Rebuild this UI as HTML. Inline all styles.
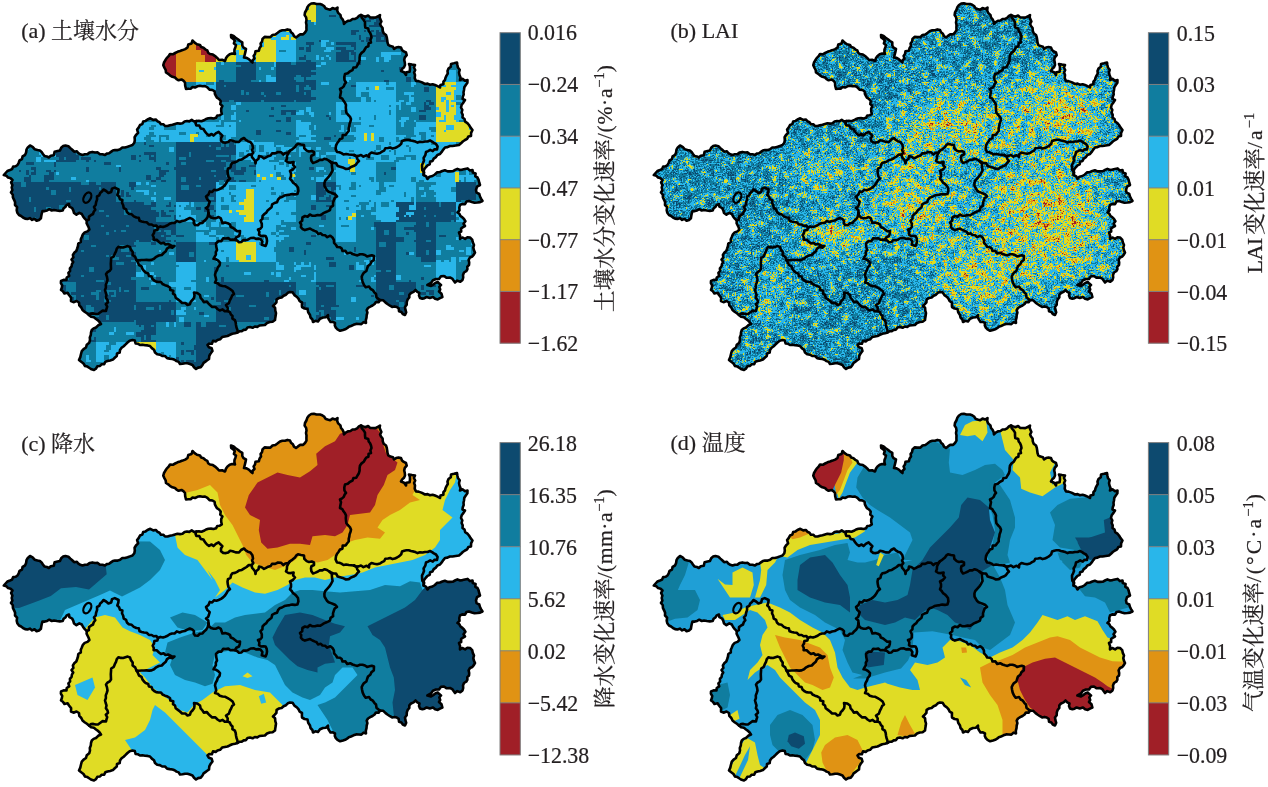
<!DOCTYPE html>
<html lang="zh"><head><meta charset="utf-8"><title>fig</title>
<style>
html,body{margin:0;padding:0;background:#fff}
body{width:1268px;height:787px;overflow:hidden;position:relative}
svg{position:absolute;left:0;top:0;display:block}
text{font-family:"Liberation Serif","Noto Serif CJK SC",serif;fill:#231f20;stroke:#231f20;stroke-width:0.22px}
.t{font-size:22px}
.l{font-size:22.8px}
.ax{font-size:21.6px}
</style></head><body>
<svg width="1268" height="787" viewBox="0 0 1268 787">
<defs>

<clipPath id="cp"><polygon points="3.8,175.0 5.6,173.0 7.4,171.0 10.0,170.0 12.1,169.1 13.2,166.6 15.7,166.3 17.5,165.0 18.7,162.8 19.6,160.3 22.0,159.0 22.6,156.3 25.0,155.0 26.1,152.5 26.5,149.7 27.8,147.4 30.0,145.5 32.6,146.8 34.6,149.2 37.5,150.0 39.9,150.5 41.6,151.9 42.9,154.0 44.4,155.9 46.8,156.4 48.8,157.5 50.8,155.7 53.8,155.2 54.6,151.7 57.5,151.0 60.0,150.4 61.2,147.8 63.0,146.1 65.5,145.5 68.4,146.2 70.4,148.1 72.5,150.0 74.1,151.7 76.9,151.3 78.4,153.2 80.3,154.3 82.5,155.0 84.9,154.2 87.5,154.1 89.8,152.4 92.3,151.9 95.0,152.5 97.7,152.4 99.9,154.2 102.5,154.2 105.0,155.0 106.8,153.6 109.1,153.2 110.9,151.9 112.8,150.6 115.0,150.0 117.7,150.1 120.1,149.2 122.3,147.5 125.0,147.5 127.6,146.8 130.0,145.9 132.5,145.0 134.3,142.8 134.8,140.2 134.6,137.3 136.0,135.0 138.1,132.9 137.1,129.6 138.8,127.4 140.0,125.0 142.3,124.1 143.2,121.5 145.6,120.9 147.5,119.5 150.3,118.3 153.2,119.9 156.0,119.5 157.4,121.3 159.5,122.2 160.9,124.2 163.5,124.3 165.0,126.0 167.6,126.0 170.0,125.2 172.5,124.7 175.0,124.0 177.4,123.3 180.0,123.6 182.5,123.3 184.6,121.5 187.0,121.0 189.3,121.4 191.7,119.9 194.1,121.5 196.4,121.0 198.9,120.9 201.5,121.2 203.8,120.3 206.0,119.0 208.4,118.2 211.0,118.1 213.6,118.5 216.0,117.8 217.3,115.5 219.8,115.2 221.8,114.0 221.2,111.3 221.2,108.6 222.4,106.0 220.3,104.1 220.7,101.0 219.0,99.0 216.9,97.7 215.9,95.8 214.9,93.8 214.6,91.3 212.5,90.0 209.5,89.6 207.4,87.4 205.0,86.0 202.5,86.3 199.9,85.8 197.4,86.3 195.0,87.5 192.6,87.0 190.6,88.8 188.3,88.8 186.0,89.0 185.2,85.8 185.0,82.5 183.4,80.6 181.5,79.5 178.6,80.3 176.6,79.2 175.0,77.5 172.4,76.8 170.2,75.6 168.2,73.8 166.0,72.5 165.7,70.0 164.4,67.6 163.3,65.2 164.0,62.5 165.3,60.3 166.7,58.1 168.6,56.2 170.0,54.0 172.8,54.3 175.1,53.0 177.5,51.8 180.0,51.0 182.6,50.1 185.2,49.1 187.5,47.5 188.3,44.5 191.6,43.4 192.5,40.5 194.6,42.6 197.0,44.3 200.0,45.0 201.2,47.1 203.5,47.8 205.2,49.3 207.3,50.3 208.1,52.7 210.0,54.0 212.9,54.6 215.1,56.1 217.2,57.9 219.0,60.0 222.1,59.7 225.0,61.0 225.9,58.3 227.5,56.0 229.7,54.3 232.2,53.5 235.0,54.0 234.4,51.7 234.5,49.4 235.4,47.2 236.0,45.0 233.9,43.5 234.8,40.6 233.3,38.9 231.2,37.4 231.0,35.0 233.6,36.0 235.7,37.7 237.9,39.2 240.0,41.0 242.3,42.4 242.3,45.5 243.5,47.7 246.0,49.0 245.4,51.9 244.7,54.7 244.0,57.5 246.6,57.9 248.8,59.1 250.6,60.9 252.5,62.5 252.6,60.2 254.5,58.5 253.6,55.9 255.0,54.0 255.5,51.3 258.9,50.7 259.6,48.0 261.0,46.0 260.6,43.5 262.1,41.4 262.5,39.0 264.6,36.9 267.5,37.1 270.4,37.1 272.5,35.0 275.4,34.5 277.7,32.8 280.0,31.0 282.4,30.2 285.0,30.2 287.4,29.4 290.0,30.0 291.0,32.3 292.9,33.8 294.0,36.1 296.0,37.5 298.0,35.9 300.2,34.4 303.1,34.4 305.0,32.5 306.5,30.1 306.4,27.6 306.5,25.1 306.0,22.5 306.5,19.9 306.1,17.4 304.6,15.1 305.0,12.5 306.4,10.0 307.3,7.3 309.0,5.0 311.3,3.5 313.8,3.2 316.5,4.0 320.0,4.0 322.2,4.8 324.1,6.0 325.4,8.2 327.5,9.0 330.2,9.8 332.5,8.1 335.2,9.0 337.5,7.5 337.2,10.4 338.2,12.9 340.4,14.9 341.0,17.5 342.6,19.4 343.6,21.5 344.0,24.0 345.7,22.1 347.9,20.9 350.5,20.5 352.5,19.0 355.1,18.9 357.1,17.8 358.9,16.0 361.0,15.0 363.2,15.9 365.4,16.7 368.1,15.5 370.1,17.4 372.5,17.5 375.3,17.6 377.7,16.5 380.0,15.0 379.6,17.3 380.5,19.4 381.4,21.5 380.1,23.9 381.0,26.0 382.6,28.0 382.8,30.9 383.7,33.3 386.0,35.0 386.8,37.4 387.2,40.0 387.5,42.5 388.3,44.9 390.4,46.1 393.0,46.8 394.0,49.0 396.1,47.6 398.5,47.1 401.0,47.5 402.0,49.9 403.8,51.4 406.0,52.5 406.7,55.1 404.8,57.4 404.2,59.9 404.8,62.5 405.0,65.0 404.0,67.2 402.2,68.9 401.0,71.0 404.1,72.3 406.0,75.0 406.3,72.3 409.6,71.7 410.0,69.0 409.9,66.4 409.0,64.0 412.0,64.6 415.0,65.0 413.9,67.5 415.2,70.0 414.1,72.5 415.0,75.0 414.7,78.1 416.0,81.0 418.5,81.1 420.7,81.9 422.9,82.8 425.0,84.0 427.6,83.6 430.0,84.7 432.6,84.2 435.0,85.0 437.6,86.1 440.0,87.5 440.5,85.1 443.4,84.3 443.4,81.7 445.0,80.0 445.5,77.7 446.5,75.6 447.8,73.5 447.5,71.0 448.5,68.6 450.8,66.8 451.0,64.0 454.0,63.3 457.0,62.5 457.4,65.0 457.9,67.5 459.7,69.8 459.0,72.5 459.5,75.0 460.5,77.4 460.0,80.0 462.5,78.8 465.0,80.7 467.5,80.0 467.4,82.8 465.8,85.0 464.3,87.3 464.0,90.0 463.5,92.2 463.7,94.6 462.8,96.7 462.5,99.0 465.0,100.0 463.5,102.4 461.7,104.7 461.0,107.5 462.3,109.9 461.6,112.5 462.7,114.9 462.5,117.5 464.5,119.0 465.2,121.7 467.4,123.1 469.0,125.0 470.6,127.6 472.5,130.0 471.1,132.8 471.0,136.0 468.4,136.5 467.1,138.8 465.0,140.0 462.8,141.5 461.0,143.3 459.0,145.0 455.7,145.5 452.5,146.0 449.9,146.0 447.5,147.1 445.0,147.5 443.3,149.6 441.7,151.9 440.0,154.0 437.4,154.9 435.9,157.1 433.7,158.6 432.5,161.0 430.1,161.7 429.7,164.4 427.5,165.4 426.0,167.0 424.1,169.3 423.6,172.1 423.6,175.0 426.2,176.4 427.4,179.0 429.5,176.7 432.5,176.0 434.9,174.5 437.0,172.4 440.0,172.0 442.4,171.0 444.9,170.3 447.6,171.4 450.1,171.4 452.6,171.3 455.0,170.0 457.4,168.9 460.1,170.0 462.5,169.6 465.0,169.0 467.6,168.4 469.9,170.6 472.5,170.0 472.8,172.5 475.6,173.4 475.3,176.3 477.5,177.5 478.6,179.9 479.2,182.5 480.0,185.0 477.0,186.7 476.0,190.0 476.6,192.6 479.3,194.0 480.0,196.5 481.2,198.8 482.5,201.0 480.1,202.1 477.5,202.5 474.5,202.7 471.8,201.9 469.0,201.0 466.5,201.5 465.0,204.1 462.2,203.9 460.0,205.0 459.3,207.5 459.5,210.4 457.5,212.5 459.4,213.8 460.5,216.0 462.4,217.4 464.0,219.0 465.4,221.2 463.5,223.8 465.0,226.0 463.0,227.1 461.1,228.5 461.2,231.5 459.0,232.5 460.1,235.7 460.0,239.0 462.3,237.5 465.1,238.9 467.4,237.3 470.0,237.5 472.2,239.6 472.8,242.4 474.0,245.0 473.3,247.6 473.9,250.1 475.0,252.5 473.8,254.6 472.3,256.5 470.0,257.5 468.6,259.9 469.2,262.5 469.0,265.0 467.3,266.6 467.4,269.3 466.2,271.2 464.0,272.5 463.0,274.9 463.2,277.5 462.5,280.0 460.3,281.8 457.2,280.6 455.0,282.5 453.6,280.6 452.2,278.6 450.0,277.5 446.7,277.8 444.0,276.0 441.0,276.2 439.0,279.0 436.0,279.0 432.9,280.3 431.0,283.0 427.4,285.0 431.0,286.0 433.2,284.6 435.3,283.0 437.7,282.0 439.3,283.6 441.0,285.0 439.3,286.9 440.2,289.5 439.0,291.5 441.5,293.8 442.4,297.0 440.0,298.1 437.7,299.4 435.1,298.8 433.0,297.0 429.8,298.0 426.6,297.0 424.5,298.2 422.4,298.8 420.0,298.0 419.0,295.6 419.5,293.0 417.3,291.9 415.6,290.0 413.6,291.9 411.0,293.0 409.3,294.8 409.3,297.5 407.7,299.4 406.8,301.9 406.7,304.7 405.0,307.0 405.4,309.7 406.2,312.3 405.0,315.0 402.8,314.0 401.4,312.0 399.0,311.2 398.7,308.3 396.7,307.0 394.5,306.4 392.1,306.9 390.0,305.7 387.8,304.2 385.6,302.6 383.3,300.3 380.0,300.0 378.8,302.1 375.9,302.0 374.6,304.0 372.5,305.5 370.2,306.7 368.0,308.0 366.7,310.2 367.4,312.7 366.7,315.0 366.5,317.7 365.8,320.3 366.0,323.0 363.5,322.1 361.4,324.1 359.0,324.0 356.1,323.9 353.5,324.8 351.0,326.0 348.8,326.7 347.1,328.2 345.2,329.3 343.0,330.0 340.1,330.8 337.5,329.4 335.8,327.6 334.8,325.5 335.0,323.0 332.9,321.9 330.5,322.0 329.1,319.9 328.0,317.6 328.0,315.0 326.0,317.2 323.0,317.5 320.0,318.8 318.0,321.5 315.4,320.8 313.0,322.0 312.4,319.5 310.5,317.5 310.0,315.0 308.2,312.2 307.5,309.0 304.6,308.5 302.0,307.0 301.9,304.8 302.0,302.5 299.7,301.2 298.6,298.9 297.0,297.0 294.4,295.1 292.6,292.3 290.0,292.0 287.8,292.8 286.0,294.7 283.6,295.7 281.6,297.5 279.0,298.0 276.6,299.3 276.4,302.3 274.8,304.2 273.0,306.0 275.1,307.8 275.3,310.6 276.0,313.0 275.7,315.3 275.3,317.7 275.0,320.0 272.6,321.7 269.7,322.0 267.0,323.0 264.9,325.0 262.2,325.2 259.5,325.5 257.3,326.9 254.8,326.5 252.6,327.8 250.0,327.0 247.5,327.5 246.0,329.6 243.7,329.9 241.8,331.1 239.4,331.3 237.5,332.5 235.0,333.3 232.3,333.7 229.9,334.8 227.5,336.0 224.8,336.5 222.1,337.1 220.1,339.3 217.5,340.0 215.7,341.4 213.0,340.9 211.9,343.8 209.2,343.5 207.5,345.0 208.9,347.2 211.7,348.3 212.5,351.0 210.6,353.3 209.3,355.9 209.0,359.0 207.2,360.3 205.4,361.6 203.6,362.9 202.5,365.0 200.8,367.1 198.1,367.6 196.0,369.0 194.0,367.3 192.5,365.0 190.0,364.0 187.5,363.2 185.0,363.2 182.5,363.8 180.0,364.0 178.7,361.9 176.5,361.1 174.6,359.8 172.5,359.0 169.7,358.6 167.1,358.1 165.0,356.0 162.2,356.0 159.9,354.6 157.2,354.3 155.0,352.5 154.0,349.8 151.8,348.1 150.0,346.0 147.5,345.4 145.0,345.2 142.5,344.8 140.0,345.0 138.1,343.8 135.6,343.5 134.8,340.6 132.5,340.0 129.7,340.7 127.5,342.5 125.6,344.4 123.7,346.2 121.6,347.8 120.0,350.0 119.7,352.5 117.0,353.4 116.8,356.0 115.0,357.5 112.9,359.6 110.2,360.4 107.5,361.0 105.3,361.8 104.2,364.1 101.5,364.3 100.0,366.0 97.3,366.3 96.0,368.7 94.0,370.0 91.6,369.3 89.5,368.0 87.4,366.6 85.0,366.0 83.5,363.5 81.2,361.8 79.0,360.0 80.3,357.1 81.0,354.0 81.8,351.2 83.6,349.1 86.0,347.5 86.8,344.7 89.2,342.8 90.0,340.0 89.8,337.4 90.8,335.0 91.0,332.5 91.8,330.0 93.6,328.4 96.0,327.5 98.2,325.3 101.0,324.0 99.6,322.0 98.0,320.3 96.0,319.0 93.9,317.3 91.1,316.8 89.0,315.0 86.9,313.3 84.6,311.7 82.5,310.0 81.3,307.5 79.3,305.4 79.0,302.5 76.5,301.0 73.5,302.2 71.0,301.0 71.1,297.6 69.0,295.0 67.6,292.8 64.4,293.5 62.9,291.3 61.0,290.0 61.8,287.8 62.2,285.5 60.9,283.2 61.0,281.0 63.6,279.9 66.5,280.0 66.7,277.5 69.2,275.9 68.4,272.9 70.1,271.0 69.9,268.4 71.6,266.4 71.9,264.1 73.2,262.0 71.5,259.5 73.4,257.4 72.9,255.0 74.2,252.8 76.3,251.0 77.2,248.5 78.0,246.0 78.3,243.5 80.8,241.9 80.8,239.2 81.8,237.0 82.9,234.3 84.7,232.4 87.5,231.4 89.4,229.5 88.6,227.3 87.6,225.2 86.6,223.2 86.8,220.7 84.8,218.7 83.1,216.5 81.8,214.0 79.3,212.8 76.4,214.6 74.0,213.0 73.3,210.4 72.2,208.1 69.4,206.7 69.0,204.0 66.7,204.9 65.5,206.9 63.6,208.2 62.7,210.5 59.8,210.9 56.9,210.5 54.0,210.0 51.7,210.5 49.3,209.2 47.1,210.4 44.8,211.1 42.5,211.0 41.8,213.3 41.3,215.7 40.9,218.2 39.0,220.0 36.6,220.8 34.5,218.8 32.1,219.9 29.9,218.1 27.5,219.0 25.1,218.6 23.0,217.5 21.1,216.0 19.0,215.0 17.3,212.8 16.7,210.1 17.1,207.1 15.0,205.0 15.1,202.2 14.1,199.8 12.9,197.4 12.8,194.7 11.0,192.5 12.4,190.1 11.7,187.5 12.4,185.1 11.1,182.4 12.5,180.0 10.6,178.2 8.1,177.6 6.3,175.7"/></clipPath>
<g id="lines" fill="none" stroke="#000" stroke-width="2.6" stroke-linejoin="round" stroke-linecap="round">
<polygon points="3.8,175.0 5.6,173.0 7.4,171.0 10.0,170.0 12.1,169.1 13.2,166.6 15.7,166.3 17.5,165.0 18.7,162.8 19.6,160.3 22.0,159.0 22.6,156.3 25.0,155.0 26.1,152.5 26.5,149.7 27.8,147.4 30.0,145.5 32.6,146.8 34.6,149.2 37.5,150.0 39.9,150.5 41.6,151.9 42.9,154.0 44.4,155.9 46.8,156.4 48.8,157.5 50.8,155.7 53.8,155.2 54.6,151.7 57.5,151.0 60.0,150.4 61.2,147.8 63.0,146.1 65.5,145.5 68.4,146.2 70.4,148.1 72.5,150.0 74.1,151.7 76.9,151.3 78.4,153.2 80.3,154.3 82.5,155.0 84.9,154.2 87.5,154.1 89.8,152.4 92.3,151.9 95.0,152.5 97.7,152.4 99.9,154.2 102.5,154.2 105.0,155.0 106.8,153.6 109.1,153.2 110.9,151.9 112.8,150.6 115.0,150.0 117.7,150.1 120.1,149.2 122.3,147.5 125.0,147.5 127.6,146.8 130.0,145.9 132.5,145.0 134.3,142.8 134.8,140.2 134.6,137.3 136.0,135.0 138.1,132.9 137.1,129.6 138.8,127.4 140.0,125.0 142.3,124.1 143.2,121.5 145.6,120.9 147.5,119.5 150.3,118.3 153.2,119.9 156.0,119.5 157.4,121.3 159.5,122.2 160.9,124.2 163.5,124.3 165.0,126.0 167.6,126.0 170.0,125.2 172.5,124.7 175.0,124.0 177.4,123.3 180.0,123.6 182.5,123.3 184.6,121.5 187.0,121.0 189.3,121.4 191.7,119.9 194.1,121.5 196.4,121.0 198.9,120.9 201.5,121.2 203.8,120.3 206.0,119.0 208.4,118.2 211.0,118.1 213.6,118.5 216.0,117.8 217.3,115.5 219.8,115.2 221.8,114.0 221.2,111.3 221.2,108.6 222.4,106.0 220.3,104.1 220.7,101.0 219.0,99.0 216.9,97.7 215.9,95.8 214.9,93.8 214.6,91.3 212.5,90.0 209.5,89.6 207.4,87.4 205.0,86.0 202.5,86.3 199.9,85.8 197.4,86.3 195.0,87.5 192.6,87.0 190.6,88.8 188.3,88.8 186.0,89.0 185.2,85.8 185.0,82.5 183.4,80.6 181.5,79.5 178.6,80.3 176.6,79.2 175.0,77.5 172.4,76.8 170.2,75.6 168.2,73.8 166.0,72.5 165.7,70.0 164.4,67.6 163.3,65.2 164.0,62.5 165.3,60.3 166.7,58.1 168.6,56.2 170.0,54.0 172.8,54.3 175.1,53.0 177.5,51.8 180.0,51.0 182.6,50.1 185.2,49.1 187.5,47.5 188.3,44.5 191.6,43.4 192.5,40.5 194.6,42.6 197.0,44.3 200.0,45.0 201.2,47.1 203.5,47.8 205.2,49.3 207.3,50.3 208.1,52.7 210.0,54.0 212.9,54.6 215.1,56.1 217.2,57.9 219.0,60.0 222.1,59.7 225.0,61.0 225.9,58.3 227.5,56.0 229.7,54.3 232.2,53.5 235.0,54.0 234.4,51.7 234.5,49.4 235.4,47.2 236.0,45.0 233.9,43.5 234.8,40.6 233.3,38.9 231.2,37.4 231.0,35.0 233.6,36.0 235.7,37.7 237.9,39.2 240.0,41.0 242.3,42.4 242.3,45.5 243.5,47.7 246.0,49.0 245.4,51.9 244.7,54.7 244.0,57.5 246.6,57.9 248.8,59.1 250.6,60.9 252.5,62.5 252.6,60.2 254.5,58.5 253.6,55.9 255.0,54.0 255.5,51.3 258.9,50.7 259.6,48.0 261.0,46.0 260.6,43.5 262.1,41.4 262.5,39.0 264.6,36.9 267.5,37.1 270.4,37.1 272.5,35.0 275.4,34.5 277.7,32.8 280.0,31.0 282.4,30.2 285.0,30.2 287.4,29.4 290.0,30.0 291.0,32.3 292.9,33.8 294.0,36.1 296.0,37.5 298.0,35.9 300.2,34.4 303.1,34.4 305.0,32.5 306.5,30.1 306.4,27.6 306.5,25.1 306.0,22.5 306.5,19.9 306.1,17.4 304.6,15.1 305.0,12.5 306.4,10.0 307.3,7.3 309.0,5.0 311.3,3.5 313.8,3.2 316.5,4.0 320.0,4.0 322.2,4.8 324.1,6.0 325.4,8.2 327.5,9.0 330.2,9.8 332.5,8.1 335.2,9.0 337.5,7.5 337.2,10.4 338.2,12.9 340.4,14.9 341.0,17.5 342.6,19.4 343.6,21.5 344.0,24.0 345.7,22.1 347.9,20.9 350.5,20.5 352.5,19.0 355.1,18.9 357.1,17.8 358.9,16.0 361.0,15.0 363.2,15.9 365.4,16.7 368.1,15.5 370.1,17.4 372.5,17.5 375.3,17.6 377.7,16.5 380.0,15.0 379.6,17.3 380.5,19.4 381.4,21.5 380.1,23.9 381.0,26.0 382.6,28.0 382.8,30.9 383.7,33.3 386.0,35.0 386.8,37.4 387.2,40.0 387.5,42.5 388.3,44.9 390.4,46.1 393.0,46.8 394.0,49.0 396.1,47.6 398.5,47.1 401.0,47.5 402.0,49.9 403.8,51.4 406.0,52.5 406.7,55.1 404.8,57.4 404.2,59.9 404.8,62.5 405.0,65.0 404.0,67.2 402.2,68.9 401.0,71.0 404.1,72.3 406.0,75.0 406.3,72.3 409.6,71.7 410.0,69.0 409.9,66.4 409.0,64.0 412.0,64.6 415.0,65.0 413.9,67.5 415.2,70.0 414.1,72.5 415.0,75.0 414.7,78.1 416.0,81.0 418.5,81.1 420.7,81.9 422.9,82.8 425.0,84.0 427.6,83.6 430.0,84.7 432.6,84.2 435.0,85.0 437.6,86.1 440.0,87.5 440.5,85.1 443.4,84.3 443.4,81.7 445.0,80.0 445.5,77.7 446.5,75.6 447.8,73.5 447.5,71.0 448.5,68.6 450.8,66.8 451.0,64.0 454.0,63.3 457.0,62.5 457.4,65.0 457.9,67.5 459.7,69.8 459.0,72.5 459.5,75.0 460.5,77.4 460.0,80.0 462.5,78.8 465.0,80.7 467.5,80.0 467.4,82.8 465.8,85.0 464.3,87.3 464.0,90.0 463.5,92.2 463.7,94.6 462.8,96.7 462.5,99.0 465.0,100.0 463.5,102.4 461.7,104.7 461.0,107.5 462.3,109.9 461.6,112.5 462.7,114.9 462.5,117.5 464.5,119.0 465.2,121.7 467.4,123.1 469.0,125.0 470.6,127.6 472.5,130.0 471.1,132.8 471.0,136.0 468.4,136.5 467.1,138.8 465.0,140.0 462.8,141.5 461.0,143.3 459.0,145.0 455.7,145.5 452.5,146.0 449.9,146.0 447.5,147.1 445.0,147.5 443.3,149.6 441.7,151.9 440.0,154.0 437.4,154.9 435.9,157.1 433.7,158.6 432.5,161.0 430.1,161.7 429.7,164.4 427.5,165.4 426.0,167.0 424.1,169.3 423.6,172.1 423.6,175.0 426.2,176.4 427.4,179.0 429.5,176.7 432.5,176.0 434.9,174.5 437.0,172.4 440.0,172.0 442.4,171.0 444.9,170.3 447.6,171.4 450.1,171.4 452.6,171.3 455.0,170.0 457.4,168.9 460.1,170.0 462.5,169.6 465.0,169.0 467.6,168.4 469.9,170.6 472.5,170.0 472.8,172.5 475.6,173.4 475.3,176.3 477.5,177.5 478.6,179.9 479.2,182.5 480.0,185.0 477.0,186.7 476.0,190.0 476.6,192.6 479.3,194.0 480.0,196.5 481.2,198.8 482.5,201.0 480.1,202.1 477.5,202.5 474.5,202.7 471.8,201.9 469.0,201.0 466.5,201.5 465.0,204.1 462.2,203.9 460.0,205.0 459.3,207.5 459.5,210.4 457.5,212.5 459.4,213.8 460.5,216.0 462.4,217.4 464.0,219.0 465.4,221.2 463.5,223.8 465.0,226.0 463.0,227.1 461.1,228.5 461.2,231.5 459.0,232.5 460.1,235.7 460.0,239.0 462.3,237.5 465.1,238.9 467.4,237.3 470.0,237.5 472.2,239.6 472.8,242.4 474.0,245.0 473.3,247.6 473.9,250.1 475.0,252.5 473.8,254.6 472.3,256.5 470.0,257.5 468.6,259.9 469.2,262.5 469.0,265.0 467.3,266.6 467.4,269.3 466.2,271.2 464.0,272.5 463.0,274.9 463.2,277.5 462.5,280.0 460.3,281.8 457.2,280.6 455.0,282.5 453.6,280.6 452.2,278.6 450.0,277.5 446.7,277.8 444.0,276.0 441.0,276.2 439.0,279.0 436.0,279.0 432.9,280.3 431.0,283.0 427.4,285.0 431.0,286.0 433.2,284.6 435.3,283.0 437.7,282.0 439.3,283.6 441.0,285.0 439.3,286.9 440.2,289.5 439.0,291.5 441.5,293.8 442.4,297.0 440.0,298.1 437.7,299.4 435.1,298.8 433.0,297.0 429.8,298.0 426.6,297.0 424.5,298.2 422.4,298.8 420.0,298.0 419.0,295.6 419.5,293.0 417.3,291.9 415.6,290.0 413.6,291.9 411.0,293.0 409.3,294.8 409.3,297.5 407.7,299.4 406.8,301.9 406.7,304.7 405.0,307.0 405.4,309.7 406.2,312.3 405.0,315.0 402.8,314.0 401.4,312.0 399.0,311.2 398.7,308.3 396.7,307.0 394.5,306.4 392.1,306.9 390.0,305.7 387.8,304.2 385.6,302.6 383.3,300.3 380.0,300.0 378.8,302.1 375.9,302.0 374.6,304.0 372.5,305.5 370.2,306.7 368.0,308.0 366.7,310.2 367.4,312.7 366.7,315.0 366.5,317.7 365.8,320.3 366.0,323.0 363.5,322.1 361.4,324.1 359.0,324.0 356.1,323.9 353.5,324.8 351.0,326.0 348.8,326.7 347.1,328.2 345.2,329.3 343.0,330.0 340.1,330.8 337.5,329.4 335.8,327.6 334.8,325.5 335.0,323.0 332.9,321.9 330.5,322.0 329.1,319.9 328.0,317.6 328.0,315.0 326.0,317.2 323.0,317.5 320.0,318.8 318.0,321.5 315.4,320.8 313.0,322.0 312.4,319.5 310.5,317.5 310.0,315.0 308.2,312.2 307.5,309.0 304.6,308.5 302.0,307.0 301.9,304.8 302.0,302.5 299.7,301.2 298.6,298.9 297.0,297.0 294.4,295.1 292.6,292.3 290.0,292.0 287.8,292.8 286.0,294.7 283.6,295.7 281.6,297.5 279.0,298.0 276.6,299.3 276.4,302.3 274.8,304.2 273.0,306.0 275.1,307.8 275.3,310.6 276.0,313.0 275.7,315.3 275.3,317.7 275.0,320.0 272.6,321.7 269.7,322.0 267.0,323.0 264.9,325.0 262.2,325.2 259.5,325.5 257.3,326.9 254.8,326.5 252.6,327.8 250.0,327.0 247.5,327.5 246.0,329.6 243.7,329.9 241.8,331.1 239.4,331.3 237.5,332.5 235.0,333.3 232.3,333.7 229.9,334.8 227.5,336.0 224.8,336.5 222.1,337.1 220.1,339.3 217.5,340.0 215.7,341.4 213.0,340.9 211.9,343.8 209.2,343.5 207.5,345.0 208.9,347.2 211.7,348.3 212.5,351.0 210.6,353.3 209.3,355.9 209.0,359.0 207.2,360.3 205.4,361.6 203.6,362.9 202.5,365.0 200.8,367.1 198.1,367.6 196.0,369.0 194.0,367.3 192.5,365.0 190.0,364.0 187.5,363.2 185.0,363.2 182.5,363.8 180.0,364.0 178.7,361.9 176.5,361.1 174.6,359.8 172.5,359.0 169.7,358.6 167.1,358.1 165.0,356.0 162.2,356.0 159.9,354.6 157.2,354.3 155.0,352.5 154.0,349.8 151.8,348.1 150.0,346.0 147.5,345.4 145.0,345.2 142.5,344.8 140.0,345.0 138.1,343.8 135.6,343.5 134.8,340.6 132.5,340.0 129.7,340.7 127.5,342.5 125.6,344.4 123.7,346.2 121.6,347.8 120.0,350.0 119.7,352.5 117.0,353.4 116.8,356.0 115.0,357.5 112.9,359.6 110.2,360.4 107.5,361.0 105.3,361.8 104.2,364.1 101.5,364.3 100.0,366.0 97.3,366.3 96.0,368.7 94.0,370.0 91.6,369.3 89.5,368.0 87.4,366.6 85.0,366.0 83.5,363.5 81.2,361.8 79.0,360.0 80.3,357.1 81.0,354.0 81.8,351.2 83.6,349.1 86.0,347.5 86.8,344.7 89.2,342.8 90.0,340.0 89.8,337.4 90.8,335.0 91.0,332.5 91.8,330.0 93.6,328.4 96.0,327.5 98.2,325.3 101.0,324.0 99.6,322.0 98.0,320.3 96.0,319.0 93.9,317.3 91.1,316.8 89.0,315.0 86.9,313.3 84.6,311.7 82.5,310.0 81.3,307.5 79.3,305.4 79.0,302.5 76.5,301.0 73.5,302.2 71.0,301.0 71.1,297.6 69.0,295.0 67.6,292.8 64.4,293.5 62.9,291.3 61.0,290.0 61.8,287.8 62.2,285.5 60.9,283.2 61.0,281.0 63.6,279.9 66.5,280.0 66.7,277.5 69.2,275.9 68.4,272.9 70.1,271.0 69.9,268.4 71.6,266.4 71.9,264.1 73.2,262.0 71.5,259.5 73.4,257.4 72.9,255.0 74.2,252.8 76.3,251.0 77.2,248.5 78.0,246.0 78.3,243.5 80.8,241.9 80.8,239.2 81.8,237.0 82.9,234.3 84.7,232.4 87.5,231.4 89.4,229.5 88.6,227.3 87.6,225.2 86.6,223.2 86.8,220.7 84.8,218.7 83.1,216.5 81.8,214.0 79.3,212.8 76.4,214.6 74.0,213.0 73.3,210.4 72.2,208.1 69.4,206.7 69.0,204.0 66.7,204.9 65.5,206.9 63.6,208.2 62.7,210.5 59.8,210.9 56.9,210.5 54.0,210.0 51.7,210.5 49.3,209.2 47.1,210.4 44.8,211.1 42.5,211.0 41.8,213.3 41.3,215.7 40.9,218.2 39.0,220.0 36.6,220.8 34.5,218.8 32.1,219.9 29.9,218.1 27.5,219.0 25.1,218.6 23.0,217.5 21.1,216.0 19.0,215.0 17.3,212.8 16.7,210.1 17.1,207.1 15.0,205.0 15.1,202.2 14.1,199.8 12.9,197.4 12.8,194.7 11.0,192.5 12.4,190.1 11.7,187.5 12.4,185.1 11.1,182.4 12.5,180.0 10.6,178.2 8.1,177.6 6.3,175.7"/>
<polyline points="361.0,15.0 361.7,17.6 363.5,19.8 365.0,22.1 365.0,25.0 365.3,27.5 368.2,28.5 368.7,31.0 370.1,32.8 371.0,35.0 371.5,37.5 370.4,40.0 371.0,42.5 368.6,43.3 368.4,46.2 366.2,47.1 365.0,49.0 363.7,51.3 361.6,52.9 360.0,55.0 359.6,57.6 359.6,60.2 358.9,62.7 357.5,65.0 356.3,67.2 353.4,67.6 352.5,70.0 350.0,71.3 347.8,73.3 345.0,74.0 344.3,77.0 344.4,79.8 346.0,82.5 344.6,84.2 343.7,86.4 342.1,87.9 340.0,89.0 341.0,91.8 340.4,94.7 340.0,97.5 342.3,98.7 343.5,100.8 345.0,102.7 346.0,105.0 345.8,107.5 346.0,110.0 346.4,112.7 348.0,114.8 349.9,116.6 351.0,119.0 350.5,121.4 349.6,123.7 349.3,126.1 348.7,128.4 348.7,131.0 347.0,133.0 345.6,134.9 342.7,135.1 342.4,138.2 340.0,139.0 338.7,141.2 337.1,143.2 336.0,145.6 335.6,148.9 337.0,152.0 339.4,152.2 341.5,153.1 343.5,154.5 346.2,154.0 348.8,154.5 351.4,154.7 354.0,155.0"/>
<polyline points="354.0,155.0 356.3,156.1 358.7,155.9 361.0,155.0 363.4,156.6 366.6,155.2 369.0,157.0 369.2,154.2 371.5,152.5 374.3,153.2 377.1,153.8 380.0,153.0 382.0,151.7 384.1,150.7 385.3,148.2 388.0,148.0 390.2,147.5 392.6,148.6 394.8,148.1 397.0,147.0 399.3,145.6 401.2,143.8 402.0,141.0 404.2,140.2 406.4,139.8 408.7,139.8 411.0,140.5 413.2,140.9 415.4,141.6 417.6,142.6 420.0,141.8 422.6,142.0 425.0,141.5 427.6,141.5 430.0,140.5 432.1,141.6 433.9,142.9 436.0,144.0 437.6,146.5 437.0,149.4 434.6,149.2 432.8,151.1 430.2,149.9 428.1,151.1 426.0,152.0 425.3,155.2 423.6,158.0 424.0,160.5 423.1,162.8 422.0,165.0 422.1,167.6 422.3,170.1 424.2,172.3 423.6,175.0"/>
<polyline points="354.0,155.0 356.5,156.3 357.3,159.0 359.0,161.0 357.3,162.7 356.0,164.6 353.6,166.1 351.0,167.0 348.8,168.6 346.0,169.0 343.6,167.8 341.0,167.0 337.7,166.0 336.0,163.0 333.4,163.0 331.0,162.0 328.9,160.8 327.0,159.5 324.6,158.7 322.4,159.9 320.1,159.7 318.0,161.0 315.5,162.1 313.0,163.0 311.4,160.7 311.0,158.0 311.4,155.7 314.0,154.5 314.0,152.0 311.7,151.0 309.0,151.5 306.7,150.6 304.3,148.3 304.0,145.0 301.0,144.4 298.0,143.7 296.2,145.1 295.0,147.0 292.5,149.1 289.8,150.8 288.0,152.6 285.3,153.0 283.4,154.6 281.2,152.3 278.0,152.0 275.2,153.4 272.0,153.4 270.6,155.6 268.2,156.2 266.1,157.3 264.0,158.4 261.7,156.8 259.0,156.0 258.5,158.8 256.0,160.7 255.5,163.5 255.1,161.0 253.6,159.0 252.0,157.1 251.7,154.6 253.3,152.6 252.1,150.1 253.0,148.0 252.4,144.7 250.4,142.0 247.9,141.2 245.8,139.9 244.0,138.0 241.1,139.5 239.0,142.0 235.7,141.9 232.6,140.7 230.1,140.2 228.2,142.0 226.0,142.6 223.2,142.4 221.0,140.7 221.0,138.0 222.4,135.6 220.4,133.8 218.6,131.8 215.8,133.4 213.5,135.6 211.6,134.0 209.0,135.4 207.0,134.0 205.0,131.7 203.4,129.0 200.7,128.4 199.3,125.5 196.4,125.4 195.5,123.2 196.4,121.0"/>
<polyline points="329.5,161.0 331.8,163.6 332.0,167.0 332.6,170.4 331.0,173.5 329.2,176.2 327.0,178.6 325.2,180.7 324.4,183.2 324.5,186.0 325.7,188.1 326.9,190.2 328.6,191.7 331.0,192.6 333.2,193.5 335.4,194.5 337.0,196.4 334.7,198.0 333.8,200.3 333.0,202.8 333.1,205.7 330.6,207.4 330.0,210.0 328.0,211.1 326.0,212.0 323.9,212.9 322.0,214.1 320.0,215.3 317.5,215.0 315.0,215.7 312.5,215.8 309.9,214.5 307.6,216.7 305.0,216.0 302.4,217.5 302.2,220.8 300.0,222.5 301.2,224.5 300.9,227.1 302.5,229.0 304.9,230.1 307.5,229.3 310.1,228.6 312.5,230.0 314.5,230.9 316.6,231.7 318.0,233.9 320.8,233.3 322.5,235.0 325.1,235.3 327.3,237.2 330.3,235.7 332.5,237.5 333.9,239.9 334.1,242.8 336.0,245.0 337.2,247.0 340.0,247.2 341.7,248.6 342.5,251.0 345.3,250.7 347.2,253.5 350.2,252.7 352.5,254.0 355.0,254.8 357.4,255.4 360.0,254.2 362.5,254.2 365.0,255.0 367.1,256.4 369.5,255.8 371.8,255.2 374.0,256.0 373.8,260.0 371.5,261.6 370.3,264.3 368.0,266.0 367.1,268.5 366.4,271.0 364.0,272.6 362.7,274.5 361.7,276.6 362.0,279.0 362.7,282.1 364.0,285.0 365.7,287.3 369.1,286.6 370.7,289.0 372.9,290.2 374.3,292.3 376.0,294.0 376.5,297.3 379.0,299.4 380.0,300.0"/>
<polyline points="251.7,154.6 248.8,154.5 246.6,156.5 244.2,157.9 241.8,159.4 239.0,160.0 237.1,161.4 235.0,162.4 232.4,162.7 231.0,164.8 230.5,167.3 228.0,168.6 227.5,171.0 227.8,173.8 228.4,176.4 230.0,178.8 227.8,180.4 226.5,182.8 225.0,185.0 223.1,186.9 221.0,188.4 218.6,189.5 216.4,190.3 214.0,189.8 212.1,192.0 209.7,191.4 208.5,194.4 206.0,196.5 207.3,199.4 209.7,201.6 209.0,204.0 208.2,206.4 206.0,208.0 208.3,210.0 208.5,213.0"/>
<polyline points="289.8,150.8 288.3,153.3 287.0,156.0 286.9,158.6 286.0,161.0 288.4,162.5 290.9,162.6 293.6,162.0 293.1,164.8 295.0,167.0 292.9,169.5 290.0,171.0 291.0,173.6 291.0,176.2 290.0,178.8 291.7,180.5 293.0,182.6 295.0,184.0 296.6,185.7 298.0,187.6 298.4,190.9 297.4,194.0 294.9,194.4 292.3,194.1 289.8,194.6 287.1,195.0 284.4,195.6 282.0,197.0 279.6,197.8 278.0,199.7 277.0,202.2 274.5,203.0 272.2,204.4 271.5,207.3 269.4,209.0 267.6,210.5 266.3,212.6 264.4,214.0 262.6,215.9 262.4,218.8 260.5,220.7 261.8,223.7 261.8,227.0 260.2,228.8 258.0,229.5 259.4,231.9 259.0,234.6 261.0,236.0 263.4,235.7 265.6,236.0 266.7,238.4 267.0,241.0 266.6,243.6 265.6,246.0 261.8,244.8 262.4,241.6 260.5,239.0 258.3,238.6 256.0,238.9 254.0,237.8 250.7,238.0 247.8,239.7 245.6,240.1 243.2,240.1 241.5,242.0 239.0,242.2 237.1,240.5 235.0,239.7"/>
<polyline points="208.5,213.0 209.1,215.6 211.0,217.5 213.6,218.2 216.1,218.2 218.6,217.0 220.8,218.4 221.6,220.7 222.4,223.0 225.1,222.6 227.6,223.2 230.0,224.5 230.8,227.0 233.2,228.0 235.0,229.5 237.2,231.3 240.0,231.0 239.8,233.6 239.0,236.0 236.4,237.2 235.0,239.7 232.7,239.5 230.4,239.7 228.3,238.1 226.0,238.5 223.2,238.3 221.4,241.1 218.6,241.0 216.0,243.5 216.3,246.8 217.0,250.0 215.8,252.1 215.9,254.7 214.7,256.7 213.5,258.8 216.1,259.3 218.2,260.7 220.0,262.6 219.6,265.3 217.8,267.4 217.0,270.0 215.6,272.4 215.0,275.0 215.7,277.5 216.2,280.0 215.0,282.5 217.7,283.3 219.8,285.2 222.5,286.0 225.3,286.3 227.7,287.6 230.0,289.0 232.6,291.0 234.0,294.0 232.1,295.6 231.2,297.9 230.0,300.0 228.9,303.2 226.0,305.0 227.7,307.8 227.5,311.0"/>
<polyline points="208.5,213.0 207.6,217.0 206.1,219.2 204.1,220.9 202.5,223.0 199.9,223.3 197.8,225.3 195.0,225.0 193.7,223.0 194.0,220.7 192.2,218.9 189.8,218.0 187.3,219.2 184.8,220.5 182.0,221.0 179.6,222.0 176.8,220.9 174.6,223.0 172.0,223.0 169.7,223.8 167.6,225.3 165.3,226.2 163.0,227.0 160.4,226.4 158.0,227.6 156.4,225.5 153.6,225.8 151.7,224.5 148.9,224.4 146.7,222.3 144.0,222.0 141.7,221.5 139.6,220.8 138.8,217.8 136.4,217.5 133.8,216.4 131.7,214.3 128.8,213.7 126.9,212.0 126.1,209.3 123.7,208.0 123.2,205.3 122.0,202.8 122.4,200.0 119.9,199.2 119.1,196.6 117.3,195.0 118.3,192.3 118.6,189.5 114.8,187.6 112.0,188.6 111.2,192.0 108.4,193.0 106.1,191.0 103.4,189.5 102.0,191.5 100.2,193.0 99.3,195.3 97.0,196.5 97.1,199.4 96.1,202.2 95.7,205.0 94.0,206.9 95.3,209.8 93.7,211.8 93.0,214.0 90.9,215.2 89.0,216.6 88.9,219.5 86.8,220.7"/>
<polyline points="158.0,227.6 157.4,230.0 154.4,230.5 154.0,233.0 152.7,235.2 153.8,237.5 153.6,239.7 156.7,239.8 159.0,242.0 161.0,243.5 163.6,242.7 165.5,244.5 168.0,244.0 170.1,245.0 172.1,246.1 174.5,246.0 172.3,247.7 169.3,247.1 167.0,248.6 165.8,251.2 163.7,253.0 161.8,255.0 158.8,255.5 156.2,256.8 154.0,258.8 151.6,259.9 149.1,260.1 146.5,259.9 144.0,260.0 141.5,260.0 138.9,260.3 136.4,260.0"/>
<polyline points="89.0,315.0 91.0,313.6 93.3,313.4 95.7,314.0 98.0,314.0 100.0,312.5 102.7,310.6 106.0,311.0 106.5,308.8 107.2,306.7 105.8,304.2 108.0,302.3 107.5,300.0 105.9,297.7 106.5,294.9 105.7,292.5 105.0,290.0 105.9,287.6 105.8,284.9 106.7,282.5 107.5,280.0 107.0,276.9 106.0,274.0 107.5,272.2 109.6,270.9 111.0,269.0 110.9,266.3 110.8,263.7 111.0,261.0 111.2,258.0 113.8,256.3 114.8,253.7 116.0,251.4 116.8,248.7 118.6,246.7 120.9,247.4 123.1,247.5 125.4,246.8 127.7,246.1 130.0,247.0 130.9,249.6 132.7,252.0 132.6,255.0 135.2,256.9 136.4,260.0 137.9,262.4 139.0,265.0 141.5,266.3 142.4,268.9 144.0,271.0 145.7,272.6 148.2,273.4 148.9,276.0 151.5,276.6 152.5,279.0 154.2,280.5 156.2,281.6 158.5,282.0 161.0,282.0 162.5,284.0 165.0,285.2 167.6,286.1 170.0,287.5 170.3,290.0 173.3,290.7 173.0,293.6 175.0,295.0 175.7,297.8 177.9,299.4 180.0,301.0 182.1,303.0 185.4,303.0 187.5,305.0 190.0,304.2 190.8,301.7 192.5,300.0 194.1,297.7 194.5,295.2 194.0,292.5 197.3,293.0 200.0,295.0 200.6,297.8 202.5,300.0 203.8,302.1 206.9,301.6 208.3,303.4 210.0,305.0 212.2,306.9 215.4,306.9 217.5,309.0 219.8,310.5 222.6,309.4 224.8,311.3 227.5,311.0 229.8,312.0 230.8,314.3 232.5,316.0 232.4,318.6 234.9,320.2 235.7,322.5 236.0,325.0 236.5,327.5 237.4,329.9 237.5,332.5"/>
<ellipse cx="87.3" cy="197.6" rx="3.4" ry="5.6" transform="rotate(28 87.3 197.6)" stroke-width="2.3"/>
</g>
<filter id="lai" x="0" y="0" width="100%" height="100%" filterUnits="objectBoundingBox" color-interpolation-filters="sRGB"><feTurbulence type="fractalNoise" baseFrequency="0.14" numOctaves="4" seed="5" result="n1"/><feColorMatrix in="n1" type="matrix" values="1 0 0 0 0  1 0 0 0 0  1 0 0 0 0  0 0 0 0 1" result="n1g"/><feTurbulence type="fractalNoise" baseFrequency="0.68" numOctaves="1" seed="11" result="n2"/><feColorMatrix in="n2" type="matrix" values="1 0 0 0 0  1 0 0 0 0  1 0 0 0 0  0 0 0 0 1" result="n2g"/><feComponentTransfer in="n1g" result="n1t"><feFuncR type="table" tableValues="0 0 0.02 0.08 0.15 0.2 0.3 0.43 0.55 0.62 0.65"/><feFuncG type="table" tableValues="0 0 0.02 0.08 0.15 0.2 0.3 0.43 0.55 0.62 0.65"/><feFuncB type="table" tableValues="0 0 0.02 0.08 0.15 0.2 0.3 0.43 0.55 0.62 0.65"/></feComponentTransfer><feComposite in="n1t" in2="n2g" operator="arithmetic" k1="0" k2="1.15" k3="1.2" k4="-0.32999999999999996" result="mix"/><feComposite in="mix" in2="SourceGraphic" operator="arithmetic" k1="0" k2="1" k3="1" k4="-0.5" result="v"/><feComponentTransfer in="v"><feFuncR type="discrete" tableValues="0.051 0.051 0.051 0.063 0.063 0.063 0.063 0.063 0.063 0.063 0.063 0.063 0.161 0.161 0.161 0.161 0.161 0.161 0.161 0.161 0.161 0.161 0.878 0.878 0.878 0.878 0.878 0.878 0.878 0.878 0.878 0.878 0.878 0.878 0.878 0.878 0.878 0.878 0.878 0.627"/><feFuncG type="discrete" tableValues="0.290 0.290 0.290 0.490 0.490 0.490 0.490 0.490 0.490 0.490 0.490 0.490 0.714 0.714 0.714 0.714 0.714 0.714 0.714 0.714 0.714 0.714 0.863 0.863 0.863 0.863 0.863 0.863 0.863 0.863 0.863 0.863 0.863 0.576 0.576 0.576 0.576 0.576 0.576 0.122"/><feFuncB type="discrete" tableValues="0.435 0.435 0.435 0.624 0.624 0.624 0.624 0.624 0.624 0.624 0.624 0.624 0.918 0.918 0.918 0.918 0.918 0.918 0.918 0.918 0.918 0.918 0.145 0.145 0.145 0.145 0.145 0.145 0.145 0.145 0.145 0.145 0.145 0.078 0.078 0.078 0.078 0.078 0.078 0.153"/><feFuncA type="linear" slope="0" intercept="1"/></feComponentTransfer><feGaussianBlur stdDeviation="0.35"/></filter><radialGradient id="gw"><stop offset="0" stop-color="#fff" stop-opacity="1"/><stop offset="1" stop-color="#fff" stop-opacity="0"/></radialGradient><radialGradient id="gk"><stop offset="0" stop-color="#000" stop-opacity="1"/><stop offset="1" stop-color="#000" stop-opacity="0"/></radialGradient>
</defs>
<g transform="translate(0,0)">
<g clip-path="url(#cp)">
<g shape-rendering="crispEdges">
<rect x="-10" y="-10" width="520" height="400" fill="#107d9f"/>
<rect x="295.8" y="1.8" width="20.4" height="20.4" fill="#e0dc25"/>
<rect x="315.8" y="1.8" width="20.4" height="20.4" fill="#107d9f"/>
<rect x="335.8" y="1.8" width="20.4" height="20.4" fill="#107d9f"/>
<rect x="355.8" y="1.8" width="20.4" height="20.4" fill="#107d9f"/>
<rect x="375.8" y="1.8" width="20.4" height="20.4" fill="#0d4a6f"/>
<rect x="255.8" y="21.8" width="20.4" height="20.4" fill="#e0dc25"/>
<rect x="275.8" y="21.8" width="20.4" height="20.4" fill="#29b6ea"/>
<rect x="295.8" y="21.8" width="20.4" height="20.4" fill="#107d9f"/>
<rect x="315.8" y="21.8" width="20.4" height="20.4" fill="#107d9f"/>
<rect x="335.8" y="21.8" width="20.4" height="20.4" fill="#107d9f"/>
<rect x="355.8" y="21.8" width="20.4" height="20.4" fill="#107d9f"/>
<rect x="375.8" y="21.8" width="20.4" height="20.4" fill="#0d4a6f"/>
<rect x="155.8" y="41.8" width="20.4" height="20.4" fill="#a01f27"/>
<rect x="175.8" y="41.8" width="20.4" height="20.4" fill="#e09314"/>
<rect x="195.8" y="41.8" width="20.4" height="20.4" fill="#a01f27"/>
<rect x="215.8" y="41.8" width="20.4" height="20.4" fill="#e0dc25"/>
<rect x="235.8" y="41.8" width="20.4" height="20.4" fill="#29b6ea"/>
<rect x="255.8" y="41.8" width="20.4" height="20.4" fill="#e0dc25"/>
<rect x="275.8" y="41.8" width="20.4" height="20.4" fill="#29b6ea"/>
<rect x="295.8" y="41.8" width="20.4" height="20.4" fill="#107d9f"/>
<rect x="315.8" y="41.8" width="20.4" height="20.4" fill="#107d9f"/>
<rect x="335.8" y="41.8" width="20.4" height="20.4" fill="#0d4a6f"/>
<rect x="355.8" y="41.8" width="20.4" height="20.4" fill="#107d9f"/>
<rect x="375.8" y="41.8" width="20.4" height="20.4" fill="#107d9f"/>
<rect x="395.8" y="41.8" width="20.4" height="20.4" fill="#107d9f"/>
<rect x="155.8" y="61.8" width="20.4" height="20.4" fill="#a01f27"/>
<rect x="175.8" y="61.8" width="20.4" height="20.4" fill="#e09314"/>
<rect x="195.8" y="61.8" width="20.4" height="20.4" fill="#e0dc25"/>
<rect x="215.8" y="61.8" width="20.4" height="20.4" fill="#107d9f"/>
<rect x="235.8" y="61.8" width="20.4" height="20.4" fill="#0d4a6f"/>
<rect x="255.8" y="61.8" width="20.4" height="20.4" fill="#107d9f"/>
<rect x="275.8" y="61.8" width="20.4" height="20.4" fill="#0d4a6f"/>
<rect x="295.8" y="61.8" width="20.4" height="20.4" fill="#0d4a6f"/>
<rect x="315.8" y="61.8" width="20.4" height="20.4" fill="#107d9f"/>
<rect x="335.8" y="61.8" width="20.4" height="20.4" fill="#107d9f"/>
<rect x="355.8" y="61.8" width="20.4" height="20.4" fill="#107d9f"/>
<rect x="375.8" y="61.8" width="20.4" height="20.4" fill="#107d9f"/>
<rect x="395.8" y="61.8" width="20.4" height="20.4" fill="#107d9f"/>
<rect x="415.8" y="61.8" width="20.4" height="20.4" fill="#107d9f"/>
<rect x="435.8" y="61.8" width="20.4" height="20.4" fill="#29b6ea"/>
<rect x="175.8" y="81.8" width="20.4" height="20.4" fill="#107d9f"/>
<rect x="195.8" y="81.8" width="20.4" height="20.4" fill="#29b6ea"/>
<rect x="215.8" y="81.8" width="20.4" height="20.4" fill="#0d4a6f"/>
<rect x="235.8" y="81.8" width="20.4" height="20.4" fill="#0d4a6f"/>
<rect x="255.8" y="81.8" width="20.4" height="20.4" fill="#0d4a6f"/>
<rect x="275.8" y="81.8" width="20.4" height="20.4" fill="#0d4a6f"/>
<rect x="295.8" y="81.8" width="20.4" height="20.4" fill="#0d4a6f"/>
<rect x="315.8" y="81.8" width="20.4" height="20.4" fill="#107d9f"/>
<rect x="335.8" y="81.8" width="20.4" height="20.4" fill="#107d9f"/>
<rect x="355.8" y="81.8" width="20.4" height="20.4" fill="#29b6ea"/>
<rect x="375.8" y="81.8" width="20.4" height="20.4" fill="#29b6ea"/>
<rect x="395.8" y="81.8" width="20.4" height="20.4" fill="#107d9f"/>
<rect x="415.8" y="81.8" width="20.4" height="20.4" fill="#107d9f"/>
<rect x="435.8" y="81.8" width="20.4" height="20.4" fill="#e0dc25"/>
<rect x="455.8" y="81.8" width="20.4" height="20.4" fill="#29b6ea"/>
<rect x="215.8" y="101.8" width="20.4" height="20.4" fill="#107d9f"/>
<rect x="235.8" y="101.8" width="20.4" height="20.4" fill="#107d9f"/>
<rect x="255.8" y="101.8" width="20.4" height="20.4" fill="#107d9f"/>
<rect x="275.8" y="101.8" width="20.4" height="20.4" fill="#107d9f"/>
<rect x="295.8" y="101.8" width="20.4" height="20.4" fill="#107d9f"/>
<rect x="315.8" y="101.8" width="20.4" height="20.4" fill="#107d9f"/>
<rect x="335.8" y="101.8" width="20.4" height="20.4" fill="#29b6ea"/>
<rect x="355.8" y="101.8" width="20.4" height="20.4" fill="#29b6ea"/>
<rect x="375.8" y="101.8" width="20.4" height="20.4" fill="#29b6ea"/>
<rect x="395.8" y="101.8" width="20.4" height="20.4" fill="#107d9f"/>
<rect x="415.8" y="101.8" width="20.4" height="20.4" fill="#107d9f"/>
<rect x="435.8" y="101.8" width="20.4" height="20.4" fill="#e0dc25"/>
<rect x="455.8" y="101.8" width="20.4" height="20.4" fill="#29b6ea"/>
<rect x="135.8" y="121.8" width="20.4" height="20.4" fill="#29b6ea"/>
<rect x="155.8" y="121.8" width="20.4" height="20.4" fill="#29b6ea"/>
<rect x="175.8" y="121.8" width="20.4" height="20.4" fill="#29b6ea"/>
<rect x="195.8" y="121.8" width="20.4" height="20.4" fill="#29b6ea"/>
<rect x="215.8" y="121.8" width="20.4" height="20.4" fill="#29b6ea"/>
<rect x="235.8" y="121.8" width="20.4" height="20.4" fill="#107d9f"/>
<rect x="255.8" y="121.8" width="20.4" height="20.4" fill="#107d9f"/>
<rect x="275.8" y="121.8" width="20.4" height="20.4" fill="#107d9f"/>
<rect x="295.8" y="121.8" width="20.4" height="20.4" fill="#29b6ea"/>
<rect x="315.8" y="121.8" width="20.4" height="20.4" fill="#107d9f"/>
<rect x="335.8" y="121.8" width="20.4" height="20.4" fill="#107d9f"/>
<rect x="355.8" y="121.8" width="20.4" height="20.4" fill="#29b6ea"/>
<rect x="375.8" y="121.8" width="20.4" height="20.4" fill="#29b6ea"/>
<rect x="395.8" y="121.8" width="20.4" height="20.4" fill="#107d9f"/>
<rect x="415.8" y="121.8" width="20.4" height="20.4" fill="#29b6ea"/>
<rect x="435.8" y="121.8" width="20.4" height="20.4" fill="#e0dc25"/>
<rect x="455.8" y="121.8" width="20.4" height="20.4" fill="#e0dc25"/>
<rect x="-9.2" y="141.8" width="45.4" height="20.4" fill="#107d9f"/>
<rect x="35.8" y="141.8" width="20.4" height="20.4" fill="#107d9f"/>
<rect x="55.8" y="141.8" width="20.4" height="20.4" fill="#0d4a6f"/>
<rect x="75.8" y="141.8" width="20.4" height="20.4" fill="#107d9f"/>
<rect x="95.8" y="141.8" width="20.4" height="20.4" fill="#107d9f"/>
<rect x="115.8" y="141.8" width="20.4" height="20.4" fill="#107d9f"/>
<rect x="135.8" y="141.8" width="20.4" height="20.4" fill="#107d9f"/>
<rect x="155.8" y="141.8" width="20.4" height="20.4" fill="#107d9f"/>
<rect x="175.8" y="141.8" width="20.4" height="20.4" fill="#0d4a6f"/>
<rect x="195.8" y="141.8" width="20.4" height="20.4" fill="#0d4a6f"/>
<rect x="215.8" y="141.8" width="20.4" height="20.4" fill="#0d4a6f"/>
<rect x="235.8" y="141.8" width="20.4" height="20.4" fill="#29b6ea"/>
<rect x="255.8" y="141.8" width="20.4" height="20.4" fill="#29b6ea"/>
<rect x="275.8" y="141.8" width="20.4" height="20.4" fill="#107d9f"/>
<rect x="295.8" y="141.8" width="20.4" height="20.4" fill="#107d9f"/>
<rect x="315.8" y="141.8" width="20.4" height="20.4" fill="#107d9f"/>
<rect x="335.8" y="141.8" width="20.4" height="20.4" fill="#29b6ea"/>
<rect x="355.8" y="141.8" width="20.4" height="20.4" fill="#29b6ea"/>
<rect x="375.8" y="141.8" width="20.4" height="20.4" fill="#29b6ea"/>
<rect x="395.8" y="141.8" width="20.4" height="20.4" fill="#29b6ea"/>
<rect x="415.8" y="141.8" width="20.4" height="20.4" fill="#29b6ea"/>
<rect x="435.8" y="141.8" width="20.4" height="20.4" fill="#29b6ea"/>
<rect x="-9.2" y="161.8" width="45.4" height="20.4" fill="#107d9f"/>
<rect x="35.8" y="161.8" width="20.4" height="20.4" fill="#107d9f"/>
<rect x="55.8" y="161.8" width="20.4" height="20.4" fill="#107d9f"/>
<rect x="75.8" y="161.8" width="20.4" height="20.4" fill="#107d9f"/>
<rect x="95.8" y="161.8" width="20.4" height="20.4" fill="#107d9f"/>
<rect x="115.8" y="161.8" width="20.4" height="20.4" fill="#107d9f"/>
<rect x="135.8" y="161.8" width="20.4" height="20.4" fill="#107d9f"/>
<rect x="155.8" y="161.8" width="20.4" height="20.4" fill="#107d9f"/>
<rect x="175.8" y="161.8" width="20.4" height="20.4" fill="#0d4a6f"/>
<rect x="195.8" y="161.8" width="20.4" height="20.4" fill="#0d4a6f"/>
<rect x="215.8" y="161.8" width="20.4" height="20.4" fill="#0d4a6f"/>
<rect x="235.8" y="161.8" width="20.4" height="20.4" fill="#107d9f"/>
<rect x="255.8" y="161.8" width="20.4" height="20.4" fill="#29b6ea"/>
<rect x="275.8" y="161.8" width="20.4" height="20.4" fill="#29b6ea"/>
<rect x="295.8" y="161.8" width="20.4" height="20.4" fill="#107d9f"/>
<rect x="315.8" y="161.8" width="20.4" height="20.4" fill="#107d9f"/>
<rect x="335.8" y="161.8" width="20.4" height="20.4" fill="#29b6ea"/>
<rect x="355.8" y="161.8" width="20.4" height="20.4" fill="#29b6ea"/>
<rect x="375.8" y="161.8" width="20.4" height="20.4" fill="#107d9f"/>
<rect x="395.8" y="161.8" width="20.4" height="20.4" fill="#29b6ea"/>
<rect x="415.8" y="161.8" width="20.4" height="20.4" fill="#29b6ea"/>
<rect x="435.8" y="161.8" width="20.4" height="20.4" fill="#29b6ea"/>
<rect x="455.8" y="161.8" width="20.4" height="20.4" fill="#29b6ea"/>
<rect x="-9.2" y="181.8" width="45.4" height="20.4" fill="#0d4a6f"/>
<rect x="35.8" y="181.8" width="20.4" height="20.4" fill="#0d4a6f"/>
<rect x="55.8" y="181.8" width="20.4" height="20.4" fill="#0d4a6f"/>
<rect x="75.8" y="181.8" width="20.4" height="20.4" fill="#0d4a6f"/>
<rect x="95.8" y="181.8" width="20.4" height="20.4" fill="#0d4a6f"/>
<rect x="115.8" y="181.8" width="20.4" height="20.4" fill="#107d9f"/>
<rect x="135.8" y="181.8" width="20.4" height="20.4" fill="#107d9f"/>
<rect x="155.8" y="181.8" width="20.4" height="20.4" fill="#107d9f"/>
<rect x="175.8" y="181.8" width="20.4" height="20.4" fill="#0d4a6f"/>
<rect x="195.8" y="181.8" width="20.4" height="20.4" fill="#0d4a6f"/>
<rect x="215.8" y="181.8" width="20.4" height="20.4" fill="#29b6ea"/>
<rect x="235.8" y="181.8" width="20.4" height="20.4" fill="#29b6ea"/>
<rect x="255.8" y="181.8" width="20.4" height="20.4" fill="#29b6ea"/>
<rect x="275.8" y="181.8" width="20.4" height="20.4" fill="#29b6ea"/>
<rect x="295.8" y="181.8" width="20.4" height="20.4" fill="#107d9f"/>
<rect x="315.8" y="181.8" width="20.4" height="20.4" fill="#0d4a6f"/>
<rect x="335.8" y="181.8" width="20.4" height="20.4" fill="#29b6ea"/>
<rect x="355.8" y="181.8" width="20.4" height="20.4" fill="#29b6ea"/>
<rect x="375.8" y="181.8" width="20.4" height="20.4" fill="#29b6ea"/>
<rect x="395.8" y="181.8" width="20.4" height="20.4" fill="#29b6ea"/>
<rect x="415.8" y="181.8" width="20.4" height="20.4" fill="#107d9f"/>
<rect x="435.8" y="181.8" width="20.4" height="20.4" fill="#29b6ea"/>
<rect x="455.8" y="181.8" width="20.4" height="20.4" fill="#0d4a6f"/>
<rect x="-9.2" y="201.8" width="45.4" height="20.4" fill="#0d4a6f"/>
<rect x="35.8" y="201.8" width="20.4" height="20.4" fill="#0d4a6f"/>
<rect x="55.8" y="201.8" width="20.4" height="20.4" fill="#0d4a6f"/>
<rect x="75.8" y="201.8" width="20.4" height="20.4" fill="#0d4a6f"/>
<rect x="95.8" y="201.8" width="20.4" height="20.4" fill="#0d4a6f"/>
<rect x="115.8" y="201.8" width="20.4" height="20.4" fill="#0d4a6f"/>
<rect x="135.8" y="201.8" width="20.4" height="20.4" fill="#0d4a6f"/>
<rect x="155.8" y="201.8" width="20.4" height="20.4" fill="#107d9f"/>
<rect x="175.8" y="201.8" width="20.4" height="20.4" fill="#29b6ea"/>
<rect x="195.8" y="201.8" width="20.4" height="20.4" fill="#107d9f"/>
<rect x="215.8" y="201.8" width="20.4" height="20.4" fill="#29b6ea"/>
<rect x="235.8" y="201.8" width="20.4" height="20.4" fill="#29b6ea"/>
<rect x="255.8" y="201.8" width="20.4" height="20.4" fill="#29b6ea"/>
<rect x="275.8" y="201.8" width="20.4" height="20.4" fill="#29b6ea"/>
<rect x="295.8" y="201.8" width="20.4" height="20.4" fill="#107d9f"/>
<rect x="315.8" y="201.8" width="20.4" height="20.4" fill="#107d9f"/>
<rect x="335.8" y="201.8" width="20.4" height="20.4" fill="#29b6ea"/>
<rect x="355.8" y="201.8" width="20.4" height="20.4" fill="#107d9f"/>
<rect x="375.8" y="201.8" width="20.4" height="20.4" fill="#29b6ea"/>
<rect x="395.8" y="201.8" width="20.4" height="20.4" fill="#0d4a6f"/>
<rect x="415.8" y="201.8" width="20.4" height="20.4" fill="#0d4a6f"/>
<rect x="435.8" y="201.8" width="20.4" height="20.4" fill="#0d4a6f"/>
<rect x="455.8" y="201.8" width="20.4" height="20.4" fill="#29b6ea"/>
<rect x="75.8" y="221.8" width="20.4" height="20.4" fill="#0d4a6f"/>
<rect x="95.8" y="221.8" width="20.4" height="20.4" fill="#0d4a6f"/>
<rect x="115.8" y="221.8" width="20.4" height="20.4" fill="#0d4a6f"/>
<rect x="135.8" y="221.8" width="20.4" height="20.4" fill="#0d4a6f"/>
<rect x="155.8" y="221.8" width="20.4" height="20.4" fill="#0d4a6f"/>
<rect x="175.8" y="221.8" width="20.4" height="20.4" fill="#107d9f"/>
<rect x="195.8" y="221.8" width="20.4" height="20.4" fill="#29b6ea"/>
<rect x="215.8" y="221.8" width="20.4" height="20.4" fill="#107d9f"/>
<rect x="235.8" y="221.8" width="20.4" height="20.4" fill="#29b6ea"/>
<rect x="255.8" y="221.8" width="20.4" height="20.4" fill="#29b6ea"/>
<rect x="275.8" y="221.8" width="20.4" height="20.4" fill="#107d9f"/>
<rect x="295.8" y="221.8" width="20.4" height="20.4" fill="#107d9f"/>
<rect x="315.8" y="221.8" width="20.4" height="20.4" fill="#107d9f"/>
<rect x="335.8" y="221.8" width="20.4" height="20.4" fill="#29b6ea"/>
<rect x="355.8" y="221.8" width="20.4" height="20.4" fill="#107d9f"/>
<rect x="375.8" y="221.8" width="20.4" height="20.4" fill="#0d4a6f"/>
<rect x="395.8" y="221.8" width="20.4" height="20.4" fill="#107d9f"/>
<rect x="415.8" y="221.8" width="20.4" height="20.4" fill="#0d4a6f"/>
<rect x="435.8" y="221.8" width="20.4" height="20.4" fill="#107d9f"/>
<rect x="455.8" y="221.8" width="20.4" height="20.4" fill="#107d9f"/>
<rect x="55.8" y="241.8" width="20.4" height="20.4" fill="#0d4a6f"/>
<rect x="75.8" y="241.8" width="20.4" height="20.4" fill="#0d4a6f"/>
<rect x="95.8" y="241.8" width="20.4" height="20.4" fill="#0d4a6f"/>
<rect x="115.8" y="241.8" width="20.4" height="20.4" fill="#0d4a6f"/>
<rect x="135.8" y="241.8" width="20.4" height="20.4" fill="#107d9f"/>
<rect x="155.8" y="241.8" width="20.4" height="20.4" fill="#107d9f"/>
<rect x="175.8" y="241.8" width="20.4" height="20.4" fill="#0d4a6f"/>
<rect x="195.8" y="241.8" width="20.4" height="20.4" fill="#107d9f"/>
<rect x="215.8" y="241.8" width="20.4" height="20.4" fill="#29b6ea"/>
<rect x="235.8" y="241.8" width="20.4" height="20.4" fill="#e0dc25"/>
<rect x="255.8" y="241.8" width="20.4" height="20.4" fill="#29b6ea"/>
<rect x="275.8" y="241.8" width="20.4" height="20.4" fill="#107d9f"/>
<rect x="295.8" y="241.8" width="20.4" height="20.4" fill="#107d9f"/>
<rect x="315.8" y="241.8" width="20.4" height="20.4" fill="#107d9f"/>
<rect x="335.8" y="241.8" width="20.4" height="20.4" fill="#107d9f"/>
<rect x="355.8" y="241.8" width="20.4" height="20.4" fill="#107d9f"/>
<rect x="375.8" y="241.8" width="20.4" height="20.4" fill="#0d4a6f"/>
<rect x="395.8" y="241.8" width="20.4" height="20.4" fill="#107d9f"/>
<rect x="415.8" y="241.8" width="20.4" height="20.4" fill="#0d4a6f"/>
<rect x="435.8" y="241.8" width="20.4" height="20.4" fill="#107d9f"/>
<rect x="455.8" y="241.8" width="20.4" height="20.4" fill="#107d9f"/>
<rect x="55.8" y="261.8" width="20.4" height="20.4" fill="#0d4a6f"/>
<rect x="75.8" y="261.8" width="20.4" height="20.4" fill="#0d4a6f"/>
<rect x="95.8" y="261.8" width="20.4" height="20.4" fill="#0d4a6f"/>
<rect x="115.8" y="261.8" width="20.4" height="20.4" fill="#0d4a6f"/>
<rect x="135.8" y="261.8" width="20.4" height="20.4" fill="#107d9f"/>
<rect x="155.8" y="261.8" width="20.4" height="20.4" fill="#107d9f"/>
<rect x="175.8" y="261.8" width="20.4" height="20.4" fill="#29b6ea"/>
<rect x="195.8" y="261.8" width="20.4" height="20.4" fill="#107d9f"/>
<rect x="215.8" y="261.8" width="20.4" height="20.4" fill="#107d9f"/>
<rect x="235.8" y="261.8" width="20.4" height="20.4" fill="#107d9f"/>
<rect x="255.8" y="261.8" width="20.4" height="20.4" fill="#107d9f"/>
<rect x="275.8" y="261.8" width="20.4" height="20.4" fill="#107d9f"/>
<rect x="295.8" y="261.8" width="20.4" height="20.4" fill="#107d9f"/>
<rect x="315.8" y="261.8" width="20.4" height="20.4" fill="#107d9f"/>
<rect x="335.8" y="261.8" width="20.4" height="20.4" fill="#107d9f"/>
<rect x="355.8" y="261.8" width="20.4" height="20.4" fill="#107d9f"/>
<rect x="375.8" y="261.8" width="20.4" height="20.4" fill="#0d4a6f"/>
<rect x="395.8" y="261.8" width="20.4" height="20.4" fill="#107d9f"/>
<rect x="415.8" y="261.8" width="20.4" height="20.4" fill="#107d9f"/>
<rect x="435.8" y="261.8" width="20.4" height="20.4" fill="#29b6ea"/>
<rect x="455.8" y="261.8" width="20.4" height="20.4" fill="#107d9f"/>
<rect x="55.8" y="281.8" width="20.4" height="20.4" fill="#107d9f"/>
<rect x="75.8" y="281.8" width="20.4" height="20.4" fill="#0d4a6f"/>
<rect x="95.8" y="281.8" width="20.4" height="20.4" fill="#0d4a6f"/>
<rect x="115.8" y="281.8" width="20.4" height="20.4" fill="#0d4a6f"/>
<rect x="135.8" y="281.8" width="20.4" height="20.4" fill="#107d9f"/>
<rect x="155.8" y="281.8" width="20.4" height="20.4" fill="#107d9f"/>
<rect x="175.8" y="281.8" width="20.4" height="20.4" fill="#29b6ea"/>
<rect x="195.8" y="281.8" width="20.4" height="20.4" fill="#107d9f"/>
<rect x="215.8" y="281.8" width="20.4" height="20.4" fill="#0d4a6f"/>
<rect x="235.8" y="281.8" width="20.4" height="20.4" fill="#0d4a6f"/>
<rect x="255.8" y="281.8" width="20.4" height="20.4" fill="#0d4a6f"/>
<rect x="275.8" y="281.8" width="20.4" height="20.4" fill="#0d4a6f"/>
<rect x="295.8" y="281.8" width="20.4" height="20.4" fill="#107d9f"/>
<rect x="315.8" y="281.8" width="20.4" height="20.4" fill="#0d4a6f"/>
<rect x="335.8" y="281.8" width="20.4" height="20.4" fill="#107d9f"/>
<rect x="355.8" y="281.8" width="20.4" height="20.4" fill="#107d9f"/>
<rect x="375.8" y="281.8" width="20.4" height="20.4" fill="#0d4a6f"/>
<rect x="395.8" y="281.8" width="20.4" height="20.4" fill="#0d4a6f"/>
<rect x="415.8" y="281.8" width="20.4" height="20.4" fill="#107d9f"/>
<rect x="75.8" y="301.8" width="20.4" height="20.4" fill="#0d4a6f"/>
<rect x="95.8" y="301.8" width="20.4" height="20.4" fill="#0d4a6f"/>
<rect x="115.8" y="301.8" width="20.4" height="20.4" fill="#0d4a6f"/>
<rect x="135.8" y="301.8" width="20.4" height="20.4" fill="#0d4a6f"/>
<rect x="155.8" y="301.8" width="20.4" height="20.4" fill="#0d4a6f"/>
<rect x="175.8" y="301.8" width="20.4" height="20.4" fill="#107d9f"/>
<rect x="195.8" y="301.8" width="20.4" height="20.4" fill="#107d9f"/>
<rect x="215.8" y="301.8" width="20.4" height="20.4" fill="#0d4a6f"/>
<rect x="235.8" y="301.8" width="20.4" height="20.4" fill="#0d4a6f"/>
<rect x="255.8" y="301.8" width="20.4" height="20.4" fill="#0d4a6f"/>
<rect x="275.8" y="301.8" width="20.4" height="20.4" fill="#0d4a6f"/>
<rect x="295.8" y="301.8" width="20.4" height="20.4" fill="#107d9f"/>
<rect x="315.8" y="301.8" width="20.4" height="20.4" fill="#0d4a6f"/>
<rect x="335.8" y="301.8" width="20.4" height="20.4" fill="#107d9f"/>
<rect x="355.8" y="301.8" width="20.4" height="20.4" fill="#107d9f"/>
<rect x="375.8" y="301.8" width="20.4" height="20.4" fill="#0d4a6f"/>
<rect x="395.8" y="301.8" width="20.4" height="20.4" fill="#0d4a6f"/>
<rect x="75.8" y="321.8" width="20.4" height="20.4" fill="#0d4a6f"/>
<rect x="95.8" y="321.8" width="20.4" height="20.4" fill="#107d9f"/>
<rect x="115.8" y="321.8" width="20.4" height="20.4" fill="#107d9f"/>
<rect x="135.8" y="321.8" width="20.4" height="20.4" fill="#0d4a6f"/>
<rect x="155.8" y="321.8" width="20.4" height="20.4" fill="#107d9f"/>
<rect x="175.8" y="321.8" width="20.4" height="20.4" fill="#107d9f"/>
<rect x="195.8" y="321.8" width="20.4" height="20.4" fill="#0d4a6f"/>
<rect x="215.8" y="321.8" width="20.4" height="20.4" fill="#0d4a6f"/>
<rect x="315.8" y="321.8" width="20.4" height="20.4" fill="#107d9f"/>
<rect x="335.8" y="321.8" width="20.4" height="20.4" fill="#107d9f"/>
<rect x="75.8" y="341.8" width="20.4" height="20.4" fill="#107d9f"/>
<rect x="95.8" y="341.8" width="20.4" height="20.4" fill="#29b6ea"/>
<rect x="115.8" y="341.8" width="20.4" height="20.4" fill="#29b6ea"/>
<rect x="135.8" y="341.8" width="20.4" height="20.4" fill="#e0dc25"/>
<rect x="155.8" y="341.8" width="20.4" height="20.4" fill="#29b6ea"/>
<rect x="175.8" y="341.8" width="20.4" height="20.4" fill="#107d9f"/>
<rect x="195.8" y="341.8" width="20.4" height="20.4" fill="#0d4a6f"/>
<rect x="75.8" y="361.8" width="20.4" height="20.4" fill="#107d9f"/>
<rect x="95.8" y="361.8" width="20.4" height="20.4" fill="#107d9f"/>
<rect x="175.8" y="361.8" width="20.4" height="20.4" fill="#0d4a6f"/>
<rect x="195.8" y="361.8" width="20.4" height="20.4" fill="#0d4a6f"/>
<path fill="#0d4a6f" d="M328.5 14.5h7.5v2.5h-7.5zM348.5 9.5h2.5v2.5h-2.5zM366.0 19.5h5.0v2.5h-5.0zM368.5 14.5h2.5v5.0h-2.5zM366.0 4.5h7.5v5.0h-7.5zM361.0 9.5h2.5v2.5h-2.5zM371.0 12.0h5.0v2.5h-5.0zM368.5 2.0h2.5v2.5h-2.5zM368.5 17.0h5.0v2.5h-5.0zM363.5 14.5h2.5v5.0h-2.5zM303.5 22.0h2.5v5.0h-2.5zM318.5 39.5h2.5v2.5h-2.5zM351.0 29.5h5.0v5.0h-5.0zM366.0 37.0h5.0v2.5h-5.0zM373.5 24.5h2.5v2.5h-2.5zM358.5 34.5h2.5v5.0h-2.5zM363.5 29.5h2.5v2.5h-2.5zM356.0 29.5h2.5v2.5h-2.5zM368.5 24.5h7.5v2.5h-7.5zM366.0 39.5h2.5v2.5h-2.5zM361.0 39.5h2.5v2.5h-2.5zM371.0 29.5h2.5v2.5h-2.5zM371.0 34.5h5.0v2.5h-5.0zM373.5 22.0h2.5v2.5h-2.5zM371.0 34.5h2.5v2.5h-2.5zM308.5 44.5h2.5v2.5h-2.5zM306.0 47.0h5.0v5.0h-5.0zM306.0 42.0h7.5v2.5h-7.5zM298.5 47.0h5.0v2.5h-5.0zM298.5 47.0h5.0v2.5h-5.0zM303.5 54.5h2.5v5.0h-2.5zM306.0 59.5h5.0v2.5h-5.0zM298.5 57.0h5.0v2.5h-5.0zM408.5 59.5h5.0v2.5h-5.0zM218.5 79.5h5.0v2.5h-5.0zM356.0 62.0h5.0v2.5h-5.0zM356.0 62.0h2.5v2.5h-2.5zM381.0 69.5h2.5v2.5h-2.5zM383.5 79.5h5.0v2.5h-5.0zM398.5 67.0h5.0v2.5h-5.0zM406.0 77.0h5.0v5.0h-5.0zM353.5 84.5h2.5v2.5h-2.5zM351.0 84.5h5.0v2.5h-5.0zM426.0 99.5h5.0v2.5h-5.0zM423.5 87.0h5.0v5.0h-5.0zM246.0 109.5h2.5v2.5h-2.5zM268.5 114.5h5.0v2.5h-5.0zM271.0 107.0h2.5v2.5h-2.5zM291.0 109.5h5.0v5.0h-5.0zM281.0 109.5h5.0v5.0h-5.0zM286.0 119.5h5.0v2.5h-5.0zM276.0 119.5h5.0v2.5h-5.0zM281.0 104.5h5.0v2.5h-5.0zM286.0 117.0h5.0v2.5h-5.0zM286.0 109.5h5.0v2.5h-5.0zM328.5 117.0h2.5v2.5h-2.5zM326.0 114.5h2.5v2.5h-2.5zM418.5 114.5h7.5v5.0h-7.5zM428.5 102.0h5.0v2.5h-5.0zM423.5 104.5h5.0v2.5h-5.0zM423.5 102.0h2.5v2.5h-2.5zM423.5 107.0h7.5v2.5h-7.5zM418.5 109.5h7.5v2.5h-7.5zM256.0 129.5h5.0v5.0h-5.0zM276.0 129.5h5.0v2.5h-5.0zM286.0 132.0h5.0v2.5h-5.0zM333.5 134.5h2.5v2.5h-2.5zM323.5 137.0h7.5v2.5h-7.5zM76.0 154.5h2.5v5.0h-2.5zM88.5 147.0h2.5v2.5h-2.5zM86.0 159.5h2.5v2.5h-2.5zM93.5 159.5h2.5v2.5h-2.5zM78.5 142.0h5.0v2.5h-5.0zM81.0 157.0h2.5v2.5h-2.5zM83.5 152.0h2.5v2.5h-2.5zM83.5 157.0h7.5v2.5h-7.5zM78.5 144.5h5.0v5.0h-5.0zM76.0 149.5h2.5v2.5h-2.5zM111.0 142.0h5.0v2.5h-5.0zM118.5 142.0h5.0v2.5h-5.0zM131.0 154.5h5.0v5.0h-5.0zM148.5 144.5h5.0v2.5h-5.0zM138.5 154.5h2.5v2.5h-2.5zM148.5 154.5h2.5v5.0h-2.5zM153.5 159.5h2.5v2.5h-2.5zM138.5 159.5h2.5v2.5h-2.5zM143.5 142.0h2.5v2.5h-2.5zM148.5 152.0h7.5v2.5h-7.5zM153.5 152.0h2.5v5.0h-2.5zM143.5 152.0h5.0v2.5h-5.0zM148.5 152.0h2.5v2.5h-2.5zM151.0 157.0h5.0v2.5h-5.0zM31.0 172.0h5.0v2.5h-5.0zM33.5 172.0h2.5v2.5h-2.5zM28.5 174.5h2.5v2.5h-2.5zM26.0 162.0h7.5v2.5h-7.5zM26.0 169.5h2.5v5.0h-2.5zM33.5 167.0h2.5v5.0h-2.5zM31.0 167.0h2.5v2.5h-2.5zM18.5 169.5h2.5v2.5h-2.5zM28.5 177.0h2.5v2.5h-2.5zM23.5 177.0h7.5v5.0h-7.5zM53.5 162.0h2.5v5.0h-2.5zM43.5 174.5h5.0v5.0h-5.0zM51.0 174.5h2.5v2.5h-2.5zM48.5 174.5h5.0v5.0h-5.0zM53.5 169.5h2.5v2.5h-2.5zM46.0 169.5h5.0v2.5h-5.0zM43.5 179.5h5.0v2.5h-5.0zM48.5 172.0h5.0v2.5h-5.0zM86.0 167.0h2.5v5.0h-2.5zM103.5 162.0h7.5v2.5h-7.5zM118.5 167.0h2.5v5.0h-2.5zM151.0 179.5h5.0v2.5h-5.0zM146.0 174.5h5.0v5.0h-5.0zM158.5 169.5h7.5v5.0h-7.5zM156.0 167.0h5.0v2.5h-5.0zM156.0 177.0h5.0v2.5h-5.0zM166.0 162.0h2.5v2.5h-2.5zM158.5 174.5h5.0v2.5h-5.0zM173.5 167.0h2.5v2.5h-2.5zM166.0 169.5h2.5v2.5h-2.5zM161.0 179.5h5.0v2.5h-5.0zM253.5 169.5h2.5v5.0h-2.5zM238.5 179.5h7.5v2.5h-7.5zM248.5 164.5h7.5v2.5h-7.5zM236.0 169.5h7.5v5.0h-7.5zM241.0 167.0h5.0v5.0h-5.0zM308.5 167.0h5.0v2.5h-5.0zM391.0 167.0h5.0v2.5h-5.0zM383.5 172.0h2.5v2.5h-2.5zM128.5 182.0h7.5v5.0h-7.5zM133.5 199.5h2.5v2.5h-2.5zM131.0 182.0h2.5v5.0h-2.5zM126.0 192.0h2.5v5.0h-2.5zM131.0 187.0h2.5v2.5h-2.5zM121.0 189.5h2.5v5.0h-2.5zM126.0 194.5h5.0v2.5h-5.0zM118.5 194.5h5.0v2.5h-5.0zM161.0 214.5h5.0v2.5h-5.0zM166.0 204.5h2.5v2.5h-2.5zM156.0 212.0h2.5v5.0h-2.5zM161.0 209.5h2.5v5.0h-2.5zM168.5 209.5h5.0v2.5h-5.0zM161.0 212.0h5.0v2.5h-5.0zM173.5 204.5h2.5v2.5h-2.5zM166.0 214.5h5.0v2.5h-5.0zM168.5 202.0h2.5v5.0h-2.5zM173.5 214.5h2.5v5.0h-2.5zM203.5 219.5h2.5v2.5h-2.5zM208.5 204.5h5.0v5.0h-5.0zM201.0 219.5h2.5v2.5h-2.5zM211.0 204.5h2.5v2.5h-2.5zM208.5 214.5h5.0v2.5h-5.0zM211.0 207.0h2.5v2.5h-2.5zM196.0 207.0h5.0v2.5h-5.0zM203.5 207.0h5.0v5.0h-5.0zM213.5 209.5h2.5v2.5h-2.5zM311.0 204.5h5.0v5.0h-5.0zM326.0 204.5h5.0v2.5h-5.0zM321.0 214.5h5.0v5.0h-5.0zM176.0 234.5h7.5v2.5h-7.5zM311.0 234.5h5.0v2.5h-5.0zM313.5 229.5h2.5v2.5h-2.5zM373.5 222.0h2.5v5.0h-2.5zM406.0 232.0h2.5v2.5h-2.5zM396.0 237.0h7.5v5.0h-7.5zM413.5 227.0h2.5v2.5h-2.5zM396.0 237.0h2.5v2.5h-2.5zM413.5 229.5h2.5v2.5h-2.5zM403.5 227.0h5.0v2.5h-5.0zM413.5 224.5h2.5v2.5h-2.5zM413.5 239.5h2.5v2.5h-2.5zM411.0 227.0h5.0v2.5h-5.0zM408.5 227.0h5.0v2.5h-5.0zM438.5 234.5h7.5v2.5h-7.5zM151.0 242.0h5.0v2.5h-5.0zM136.0 259.5h5.0v2.5h-5.0zM208.5 242.0h7.5v2.5h-7.5zM288.5 247.0h5.0v5.0h-5.0zM306.0 242.0h5.0v2.5h-5.0zM303.5 249.5h2.5v5.0h-2.5zM326.0 257.0h7.5v2.5h-7.5zM353.5 247.0h2.5v5.0h-2.5zM406.0 252.0h2.5v2.5h-2.5zM156.0 277.0h5.0v5.0h-5.0zM213.5 267.0h2.5v5.0h-2.5zM221.0 277.0h2.5v5.0h-2.5zM226.0 264.5h2.5v2.5h-2.5zM263.5 279.5h5.0v2.5h-5.0zM328.5 262.0h7.5v5.0h-7.5zM348.5 264.5h5.0v5.0h-5.0zM408.5 279.5h2.5v2.5h-2.5zM421.0 277.0h2.5v2.5h-2.5zM473.5 262.0h2.5v5.0h-2.5zM471.0 279.5h5.0v2.5h-5.0zM61.0 284.5h5.0v5.0h-5.0zM68.5 297.0h5.0v5.0h-5.0zM63.5 292.0h5.0v2.5h-5.0zM66.0 299.5h2.5v2.5h-2.5zM71.0 292.0h5.0v2.5h-5.0zM63.5 289.5h2.5v5.0h-2.5zM66.0 294.5h2.5v5.0h-2.5zM141.0 287.0h7.5v2.5h-7.5zM168.5 299.5h2.5v2.5h-2.5zM211.0 297.0h2.5v2.5h-2.5zM371.0 294.5h2.5v2.5h-2.5zM356.0 284.5h7.5v2.5h-7.5zM421.0 297.0h7.5v2.5h-7.5zM421.0 292.0h5.0v2.5h-5.0zM421.0 284.5h2.5v2.5h-2.5zM431.0 284.5h5.0v2.5h-5.0zM428.5 289.5h5.0v5.0h-5.0zM421.0 287.0h2.5v2.5h-2.5zM426.0 289.5h2.5v2.5h-2.5zM416.0 299.5h7.5v2.5h-7.5zM198.5 312.0h5.0v2.5h-5.0zM298.5 309.5h5.0v2.5h-5.0zM298.5 319.5h5.0v2.5h-5.0zM303.5 307.0h5.0v2.5h-5.0zM303.5 302.0h2.5v5.0h-2.5zM301.0 307.0h7.5v2.5h-7.5zM301.0 302.0h2.5v2.5h-2.5zM301.0 317.0h7.5v5.0h-7.5zM336.0 304.5h2.5v2.5h-2.5zM183.5 322.0h7.5v5.0h-7.5zM328.5 332.0h2.5v5.0h-2.5zM341.0 337.0h7.5v2.5h-7.5zM186.0 359.5h2.5v2.5h-2.5zM181.0 349.5h2.5v5.0h-2.5zM186.0 349.5h7.5v2.5h-7.5zM191.0 349.5h2.5v5.0h-2.5zM181.0 359.5h2.5v2.5h-2.5zM191.0 359.5h2.5v2.5h-2.5zM188.5 359.5h5.0v2.5h-5.0zM176.0 357.0h2.5v5.0h-2.5zM181.0 342.0h2.5v2.5h-2.5zM193.5 344.5h2.5v5.0h-2.5zM111.0 377.0h2.5v2.5h-2.5z"/>
<path fill="#107d9f" d="M298.5 2.0h5.0v2.5h-5.0zM303.5 7.0h2.5v5.0h-2.5zM298.5 17.0h2.5v2.5h-2.5zM298.5 9.5h2.5v5.0h-2.5zM296.0 9.5h7.5v2.5h-7.5zM303.5 19.5h7.5v2.5h-7.5zM296.0 7.0h5.0v2.5h-5.0zM306.0 7.0h2.5v2.5h-2.5zM298.5 4.5h5.0v2.5h-5.0zM393.5 17.0h2.5v2.5h-2.5zM381.0 9.5h7.5v5.0h-7.5zM383.5 29.5h7.5v2.5h-7.5zM381.0 37.0h2.5v2.5h-2.5zM393.5 29.5h2.5v2.5h-2.5zM378.5 22.0h7.5v2.5h-7.5zM378.5 29.5h2.5v2.5h-2.5zM393.5 39.5h2.5v2.5h-2.5zM376.0 27.0h5.0v2.5h-5.0zM391.0 32.0h5.0v2.5h-5.0zM391.0 39.5h2.5v2.5h-2.5zM386.0 29.5h2.5v5.0h-2.5zM278.5 49.5h7.5v2.5h-7.5zM341.0 44.5h5.0v2.5h-5.0zM353.5 49.5h2.5v2.5h-2.5zM348.5 52.0h2.5v2.5h-2.5zM336.0 49.5h5.0v2.5h-5.0zM346.0 44.5h5.0v2.5h-5.0zM351.0 54.5h2.5v2.5h-2.5zM346.0 47.0h7.5v2.5h-7.5zM336.0 44.5h7.5v2.5h-7.5zM348.5 54.5h5.0v5.0h-5.0zM251.0 79.5h5.0v2.5h-5.0zM236.0 64.5h5.0v2.5h-5.0zM293.5 77.0h2.5v2.5h-2.5zM291.0 62.0h5.0v2.5h-5.0zM296.0 74.5h5.0v2.5h-5.0zM311.0 69.5h5.0v2.5h-5.0zM306.0 77.0h5.0v2.5h-5.0zM311.0 74.5h5.0v5.0h-5.0zM301.0 79.5h2.5v2.5h-2.5zM296.0 77.0h7.5v5.0h-7.5zM448.5 64.5h7.5v5.0h-7.5zM206.0 82.0h7.5v2.5h-7.5zM198.5 89.5h5.0v2.5h-5.0zM203.5 99.5h5.0v2.5h-5.0zM196.0 84.5h5.0v2.5h-5.0zM211.0 89.5h5.0v5.0h-5.0zM208.5 99.5h7.5v2.5h-7.5zM208.5 97.0h7.5v2.5h-7.5zM228.5 99.5h5.0v2.5h-5.0zM223.5 84.5h2.5v2.5h-2.5zM241.0 89.5h2.5v5.0h-2.5zM246.0 92.0h2.5v2.5h-2.5zM263.5 94.5h2.5v2.5h-2.5zM261.0 92.0h2.5v2.5h-2.5zM261.0 99.5h2.5v2.5h-2.5zM293.5 99.5h2.5v2.5h-2.5zM276.0 92.0h5.0v2.5h-5.0zM311.0 99.5h2.5v2.5h-2.5zM296.0 87.0h2.5v5.0h-2.5zM306.0 84.5h2.5v2.5h-2.5zM311.0 89.5h5.0v2.5h-5.0zM313.5 99.5h2.5v2.5h-2.5zM311.0 92.0h5.0v5.0h-5.0zM296.0 84.5h2.5v5.0h-2.5zM303.5 92.0h2.5v2.5h-2.5zM303.5 87.0h7.5v2.5h-7.5zM366.0 87.0h2.5v2.5h-2.5zM361.0 92.0h7.5v5.0h-7.5zM366.0 99.5h2.5v2.5h-2.5zM366.0 97.0h5.0v5.0h-5.0zM373.5 99.5h2.5v2.5h-2.5zM356.0 97.0h5.0v5.0h-5.0zM386.0 82.0h2.5v2.5h-2.5zM386.0 82.0h2.5v2.5h-2.5zM386.0 87.0h7.5v2.5h-7.5zM456.0 94.5h5.0v5.0h-5.0zM341.0 109.5h5.0v5.0h-5.0zM358.5 117.0h2.5v2.5h-2.5zM373.5 114.5h2.5v5.0h-2.5zM388.5 104.5h2.5v2.5h-2.5zM388.5 109.5h2.5v5.0h-2.5zM456.0 102.0h5.0v2.5h-5.0zM458.5 119.5h5.0v2.5h-5.0zM148.5 127.0h2.5v2.5h-2.5zM146.0 134.5h5.0v5.0h-5.0zM146.0 139.5h7.5v2.5h-7.5zM151.0 124.5h2.5v5.0h-2.5zM143.5 137.0h5.0v2.5h-5.0zM151.0 134.5h5.0v2.5h-5.0zM151.0 124.5h5.0v2.5h-5.0zM148.5 132.0h5.0v2.5h-5.0zM173.5 124.5h2.5v2.5h-2.5zM158.5 137.0h2.5v5.0h-2.5zM168.5 127.0h7.5v2.5h-7.5zM168.5 124.5h5.0v2.5h-5.0zM171.0 122.0h5.0v5.0h-5.0zM166.0 134.5h2.5v5.0h-2.5zM163.5 127.0h5.0v2.5h-5.0zM158.5 134.5h7.5v2.5h-7.5zM178.5 132.0h7.5v2.5h-7.5zM196.0 132.0h2.5v2.5h-2.5zM206.0 134.5h5.0v2.5h-5.0zM221.0 137.0h2.5v2.5h-2.5zM216.0 124.5h7.5v2.5h-7.5zM231.0 137.0h5.0v2.5h-5.0zM221.0 134.5h5.0v5.0h-5.0zM228.5 124.5h2.5v2.5h-2.5zM221.0 122.0h2.5v2.5h-2.5zM233.5 137.0h2.5v5.0h-2.5zM233.5 137.0h2.5v2.5h-2.5zM218.5 134.5h5.0v2.5h-5.0zM313.5 137.0h2.5v2.5h-2.5zM311.0 129.5h5.0v5.0h-5.0zM308.5 124.5h5.0v5.0h-5.0zM296.0 137.0h2.5v2.5h-2.5zM298.5 134.5h7.5v2.5h-7.5zM311.0 137.0h5.0v2.5h-5.0zM311.0 122.0h5.0v2.5h-5.0zM368.5 124.5h5.0v2.5h-5.0zM356.0 122.0h5.0v2.5h-5.0zM378.5 137.0h5.0v5.0h-5.0zM421.0 134.5h2.5v5.0h-2.5zM421.0 134.5h5.0v5.0h-5.0zM431.0 127.0h5.0v5.0h-5.0zM418.5 132.0h7.5v2.5h-7.5zM428.5 127.0h7.5v2.5h-7.5zM431.0 134.5h2.5v2.5h-2.5zM71.0 144.5h2.5v2.5h-2.5zM56.0 157.0h2.5v2.5h-2.5zM63.5 157.0h2.5v2.5h-2.5zM188.5 152.0h2.5v5.0h-2.5zM178.5 157.0h7.5v2.5h-7.5zM208.5 144.5h2.5v2.5h-2.5zM206.0 159.5h7.5v2.5h-7.5zM221.0 159.5h5.0v2.5h-5.0zM216.0 154.5h7.5v2.5h-7.5zM226.0 142.0h2.5v5.0h-2.5zM231.0 154.5h5.0v5.0h-5.0zM221.0 142.0h2.5v5.0h-2.5zM233.5 142.0h2.5v2.5h-2.5zM223.5 154.5h5.0v2.5h-5.0zM216.0 147.0h5.0v2.5h-5.0zM248.5 159.5h2.5v2.5h-2.5zM241.0 154.5h5.0v2.5h-5.0zM246.0 149.5h2.5v2.5h-2.5zM241.0 159.5h7.5v2.5h-7.5zM238.5 152.0h5.0v5.0h-5.0zM253.5 149.5h2.5v2.5h-2.5zM253.5 149.5h2.5v2.5h-2.5zM238.5 159.5h2.5v2.5h-2.5zM253.5 144.5h2.5v5.0h-2.5zM248.5 144.5h7.5v5.0h-7.5zM266.0 152.0h2.5v5.0h-2.5zM261.0 154.5h7.5v2.5h-7.5zM258.5 149.5h2.5v2.5h-2.5zM273.5 142.0h2.5v5.0h-2.5zM268.5 159.5h7.5v2.5h-7.5zM258.5 144.5h5.0v2.5h-5.0zM273.5 157.0h2.5v5.0h-2.5zM258.5 147.0h5.0v5.0h-5.0zM348.5 157.0h2.5v2.5h-2.5zM348.5 149.5h5.0v2.5h-5.0zM373.5 149.5h2.5v2.5h-2.5zM366.0 157.0h7.5v2.5h-7.5zM381.0 154.5h7.5v5.0h-7.5zM388.5 149.5h2.5v2.5h-2.5zM393.5 159.5h2.5v2.5h-2.5zM376.0 144.5h5.0v5.0h-5.0zM393.5 149.5h2.5v5.0h-2.5zM388.5 142.0h2.5v2.5h-2.5zM393.5 159.5h2.5v2.5h-2.5zM376.0 144.5h5.0v2.5h-5.0zM406.0 154.5h5.0v2.5h-5.0zM396.0 157.0h2.5v5.0h-2.5zM403.5 154.5h7.5v2.5h-7.5zM398.5 157.0h7.5v2.5h-7.5zM406.0 144.5h2.5v2.5h-2.5zM411.0 154.5h5.0v5.0h-5.0zM408.5 147.0h2.5v5.0h-2.5zM431.0 142.0h2.5v2.5h-2.5zM428.5 159.5h7.5v2.5h-7.5zM441.0 154.5h7.5v2.5h-7.5zM181.0 162.0h5.0v2.5h-5.0zM181.0 177.0h5.0v5.0h-5.0zM198.5 177.0h2.5v2.5h-2.5zM213.5 174.5h2.5v2.5h-2.5zM211.0 169.5h5.0v2.5h-5.0zM226.0 162.0h5.0v5.0h-5.0zM228.5 169.5h2.5v5.0h-2.5zM218.5 179.5h5.0v2.5h-5.0zM231.0 172.0h2.5v5.0h-2.5zM226.0 174.5h7.5v2.5h-7.5zM223.5 167.0h5.0v2.5h-5.0zM233.5 174.5h2.5v5.0h-2.5zM273.5 164.5h2.5v5.0h-2.5zM258.5 179.5h2.5v2.5h-2.5zM291.0 179.5h5.0v2.5h-5.0zM293.5 172.0h2.5v2.5h-2.5zM286.0 162.0h2.5v5.0h-2.5zM278.5 162.0h5.0v2.5h-5.0zM278.5 162.0h2.5v2.5h-2.5zM276.0 172.0h5.0v2.5h-5.0zM281.0 177.0h5.0v2.5h-5.0zM293.5 177.0h2.5v2.5h-2.5zM281.0 174.5h2.5v2.5h-2.5zM291.0 167.0h2.5v2.5h-2.5zM276.0 172.0h5.0v5.0h-5.0zM348.5 169.5h5.0v2.5h-5.0zM351.0 172.0h5.0v2.5h-5.0zM371.0 179.5h2.5v2.5h-2.5zM368.5 177.0h5.0v2.5h-5.0zM411.0 177.0h5.0v5.0h-5.0zM431.0 169.5h5.0v2.5h-5.0zM418.5 179.5h5.0v2.5h-5.0zM436.0 172.0h5.0v5.0h-5.0zM458.5 169.5h7.5v5.0h-7.5zM463.5 179.5h2.5v2.5h-2.5zM466.0 162.0h2.5v2.5h-2.5zM458.5 179.5h2.5v2.5h-2.5zM463.5 177.0h2.5v5.0h-2.5zM468.5 172.0h5.0v2.5h-5.0zM468.5 172.0h5.0v2.5h-5.0zM473.5 179.5h2.5v2.5h-2.5zM473.5 174.5h2.5v2.5h-2.5zM28.5 197.0h2.5v5.0h-2.5zM21.0 182.0h5.0v5.0h-5.0zM46.0 187.0h2.5v2.5h-2.5zM51.0 189.5h5.0v5.0h-5.0zM66.0 199.5h5.0v2.5h-5.0zM68.5 187.0h2.5v5.0h-2.5zM81.0 182.0h7.5v2.5h-7.5zM96.0 182.0h5.0v2.5h-5.0zM98.5 187.0h2.5v2.5h-2.5zM181.0 184.5h7.5v5.0h-7.5zM196.0 184.5h5.0v2.5h-5.0zM208.5 197.0h5.0v2.5h-5.0zM233.5 199.5h2.5v2.5h-2.5zM231.0 197.0h2.5v5.0h-2.5zM231.0 184.5h5.0v2.5h-5.0zM223.5 184.5h2.5v2.5h-2.5zM221.0 197.0h2.5v5.0h-2.5zM231.0 194.5h5.0v2.5h-5.0zM218.5 182.0h5.0v2.5h-5.0zM228.5 192.0h2.5v2.5h-2.5zM218.5 187.0h5.0v2.5h-5.0zM231.0 184.5h2.5v2.5h-2.5zM228.5 184.5h7.5v5.0h-7.5zM248.5 197.0h2.5v2.5h-2.5zM251.0 184.5h5.0v2.5h-5.0zM271.0 187.0h2.5v2.5h-2.5zM266.0 199.5h2.5v2.5h-2.5zM271.0 192.0h5.0v2.5h-5.0zM278.5 194.5h5.0v2.5h-5.0zM293.5 189.5h2.5v2.5h-2.5zM281.0 192.0h2.5v2.5h-2.5zM288.5 197.0h5.0v2.5h-5.0zM288.5 197.0h7.5v2.5h-7.5zM286.0 194.5h7.5v5.0h-7.5zM283.5 199.5h5.0v2.5h-5.0zM323.5 194.5h5.0v2.5h-5.0zM331.0 194.5h2.5v5.0h-2.5zM323.5 187.0h7.5v2.5h-7.5zM333.5 189.5h2.5v2.5h-2.5zM318.5 197.0h5.0v2.5h-5.0zM326.0 189.5h5.0v5.0h-5.0zM321.0 197.0h5.0v2.5h-5.0zM333.5 199.5h2.5v2.5h-2.5zM351.0 182.0h5.0v5.0h-5.0zM338.5 184.5h2.5v5.0h-2.5zM348.5 187.0h7.5v2.5h-7.5zM351.0 194.5h5.0v2.5h-5.0zM336.0 184.5h5.0v2.5h-5.0zM343.5 199.5h5.0v2.5h-5.0zM353.5 187.0h2.5v2.5h-2.5zM353.5 184.5h2.5v2.5h-2.5zM358.5 184.5h2.5v2.5h-2.5zM368.5 199.5h2.5v2.5h-2.5zM368.5 199.5h2.5v2.5h-2.5zM388.5 184.5h5.0v2.5h-5.0zM378.5 182.0h5.0v5.0h-5.0zM378.5 187.0h2.5v5.0h-2.5zM381.0 187.0h5.0v5.0h-5.0zM391.0 199.5h2.5v2.5h-2.5zM381.0 187.0h5.0v2.5h-5.0zM376.0 189.5h5.0v5.0h-5.0zM411.0 197.0h2.5v5.0h-2.5zM403.5 192.0h2.5v5.0h-2.5zM451.0 187.0h5.0v5.0h-5.0zM461.0 199.5h5.0v2.5h-5.0zM468.5 199.5h7.5v2.5h-7.5zM16.0 219.5h2.5v2.5h-2.5zM33.5 217.0h2.5v2.5h-2.5zM33.5 207.0h2.5v5.0h-2.5zM43.5 212.0h2.5v2.5h-2.5zM46.0 207.0h5.0v5.0h-5.0zM58.5 204.5h5.0v5.0h-5.0zM76.0 219.5h7.5v2.5h-7.5zM98.5 209.5h5.0v2.5h-5.0zM106.0 214.5h2.5v2.5h-2.5zM123.5 209.5h7.5v5.0h-7.5zM151.0 207.0h5.0v2.5h-5.0zM143.5 202.0h7.5v2.5h-7.5zM191.0 209.5h5.0v2.5h-5.0zM193.5 212.0h2.5v2.5h-2.5zM188.5 207.0h7.5v2.5h-7.5zM188.5 202.0h2.5v2.5h-2.5zM193.5 202.0h2.5v2.5h-2.5zM193.5 219.5h2.5v2.5h-2.5zM183.5 207.0h5.0v2.5h-5.0zM186.0 204.5h5.0v2.5h-5.0zM178.5 214.5h2.5v2.5h-2.5zM191.0 212.0h2.5v2.5h-2.5zM178.5 204.5h2.5v2.5h-2.5zM193.5 204.5h2.5v5.0h-2.5zM221.0 204.5h7.5v5.0h-7.5zM261.0 217.0h7.5v2.5h-7.5zM281.0 219.5h2.5v2.5h-2.5zM276.0 212.0h2.5v2.5h-2.5zM291.0 212.0h5.0v2.5h-5.0zM346.0 217.0h2.5v2.5h-2.5zM338.5 217.0h2.5v2.5h-2.5zM346.0 207.0h2.5v2.5h-2.5zM376.0 219.5h5.0v2.5h-5.0zM381.0 202.0h7.5v5.0h-7.5zM433.5 214.5h2.5v2.5h-2.5zM423.5 207.0h2.5v2.5h-2.5zM423.5 214.5h2.5v2.5h-2.5zM451.0 212.0h2.5v2.5h-2.5zM451.0 219.5h2.5v2.5h-2.5zM438.5 202.0h2.5v5.0h-2.5zM468.5 219.5h2.5v2.5h-2.5zM458.5 207.0h5.0v2.5h-5.0zM456.0 217.0h2.5v2.5h-2.5zM466.0 212.0h5.0v2.5h-5.0zM468.5 214.5h5.0v2.5h-5.0zM463.5 204.5h2.5v2.5h-2.5zM458.5 207.0h2.5v2.5h-2.5zM473.5 219.5h2.5v2.5h-2.5zM458.5 214.5h2.5v2.5h-2.5zM466.0 219.5h5.0v2.5h-5.0zM458.5 207.0h5.0v5.0h-5.0zM76.0 229.5h5.0v2.5h-5.0zM83.5 234.5h5.0v5.0h-5.0zM106.0 232.0h2.5v2.5h-2.5zM113.5 229.5h2.5v2.5h-2.5zM101.0 224.5h2.5v2.5h-2.5zM121.0 229.5h5.0v2.5h-5.0zM126.0 224.5h2.5v2.5h-2.5zM153.5 227.0h2.5v2.5h-2.5zM136.0 239.5h2.5v2.5h-2.5zM151.0 239.5h2.5v2.5h-2.5zM161.0 234.5h2.5v2.5h-2.5zM166.0 232.0h5.0v2.5h-5.0zM156.0 229.5h5.0v2.5h-5.0zM171.0 239.5h2.5v2.5h-2.5zM166.0 237.0h2.5v2.5h-2.5zM163.5 229.5h7.5v2.5h-7.5zM171.0 234.5h5.0v5.0h-5.0zM173.5 234.5h2.5v5.0h-2.5zM168.5 237.0h5.0v2.5h-5.0zM206.0 222.0h5.0v5.0h-5.0zM208.5 229.5h2.5v2.5h-2.5zM203.5 229.5h5.0v5.0h-5.0zM196.0 229.5h7.5v2.5h-7.5zM208.5 227.0h2.5v2.5h-2.5zM208.5 234.5h7.5v2.5h-7.5zM208.5 227.0h7.5v2.5h-7.5zM238.5 234.5h5.0v2.5h-5.0zM241.0 237.0h5.0v5.0h-5.0zM261.0 234.5h2.5v5.0h-2.5zM271.0 232.0h5.0v2.5h-5.0zM341.0 224.5h7.5v2.5h-7.5zM383.5 229.5h5.0v5.0h-5.0zM426.0 239.5h5.0v2.5h-5.0zM426.0 222.0h2.5v5.0h-2.5zM63.5 259.5h5.0v2.5h-5.0zM56.0 247.0h2.5v2.5h-2.5zM81.0 249.5h2.5v2.5h-2.5zM91.0 244.5h5.0v2.5h-5.0zM106.0 254.5h2.5v2.5h-2.5zM111.0 254.5h5.0v5.0h-5.0zM116.0 257.0h2.5v2.5h-2.5zM121.0 247.0h7.5v5.0h-7.5zM118.5 244.5h7.5v2.5h-7.5zM126.0 254.5h5.0v2.5h-5.0zM131.0 259.5h5.0v2.5h-5.0zM133.5 242.0h2.5v2.5h-2.5zM131.0 247.0h5.0v5.0h-5.0zM188.5 252.0h5.0v5.0h-5.0zM226.0 257.0h2.5v5.0h-2.5zM221.0 249.5h2.5v2.5h-2.5zM258.5 242.0h2.5v2.5h-2.5zM273.5 247.0h2.5v5.0h-2.5zM378.5 242.0h7.5v5.0h-7.5zM426.0 249.5h2.5v5.0h-2.5zM416.0 257.0h5.0v5.0h-5.0zM63.5 274.5h5.0v5.0h-5.0zM81.0 274.5h2.5v2.5h-2.5zM88.5 267.0h5.0v5.0h-5.0zM96.0 279.5h5.0v2.5h-5.0zM101.0 279.5h2.5v2.5h-2.5zM131.0 277.0h5.0v2.5h-5.0zM116.0 262.0h7.5v2.5h-7.5zM176.0 264.5h2.5v2.5h-2.5zM191.0 279.5h5.0v2.5h-5.0zM386.0 269.5h5.0v2.5h-5.0zM376.0 269.5h5.0v2.5h-5.0zM443.5 274.5h2.5v2.5h-2.5zM438.5 279.5h5.0v2.5h-5.0zM81.0 294.5h2.5v2.5h-2.5zM91.0 292.0h5.0v2.5h-5.0zM96.0 297.0h2.5v2.5h-2.5zM96.0 289.5h5.0v2.5h-5.0zM106.0 292.0h2.5v2.5h-2.5zM106.0 289.5h7.5v2.5h-7.5zM108.5 299.5h2.5v2.5h-2.5zM103.5 297.0h2.5v5.0h-2.5zM106.0 282.0h5.0v2.5h-5.0zM111.0 294.5h5.0v2.5h-5.0zM96.0 292.0h2.5v5.0h-2.5zM113.5 289.5h2.5v5.0h-2.5zM123.5 289.5h5.0v2.5h-5.0zM118.5 287.0h2.5v5.0h-2.5zM193.5 294.5h2.5v5.0h-2.5zM183.5 287.0h7.5v2.5h-7.5zM223.5 299.5h7.5v2.5h-7.5zM238.5 294.5h5.0v2.5h-5.0zM236.0 294.5h5.0v2.5h-5.0zM266.0 292.0h2.5v5.0h-2.5zM273.5 299.5h2.5v2.5h-2.5zM288.5 284.5h2.5v2.5h-2.5zM278.5 289.5h2.5v5.0h-2.5zM318.5 287.0h2.5v2.5h-2.5zM316.0 284.5h2.5v2.5h-2.5zM326.0 284.5h7.5v2.5h-7.5zM388.5 284.5h5.0v5.0h-5.0zM398.5 292.0h5.0v2.5h-5.0zM396.0 299.5h2.5v2.5h-2.5zM86.0 304.5h5.0v2.5h-5.0zM83.5 319.5h5.0v2.5h-5.0zM81.0 309.5h2.5v2.5h-2.5zM78.5 309.5h5.0v2.5h-5.0zM93.5 314.5h2.5v5.0h-2.5zM86.0 307.0h7.5v5.0h-7.5zM88.5 314.5h5.0v2.5h-5.0zM96.0 314.5h2.5v2.5h-2.5zM106.0 314.5h2.5v5.0h-2.5zM133.5 319.5h2.5v2.5h-2.5zM133.5 304.5h2.5v5.0h-2.5zM146.0 307.0h7.5v2.5h-7.5zM158.5 304.5h2.5v5.0h-2.5zM171.0 309.5h2.5v5.0h-2.5zM216.0 302.0h5.0v2.5h-5.0zM226.0 307.0h5.0v5.0h-5.0zM248.5 304.5h7.5v2.5h-7.5zM263.5 317.0h5.0v2.5h-5.0zM273.5 302.0h2.5v2.5h-2.5zM281.0 309.5h2.5v5.0h-2.5zM283.5 307.0h2.5v2.5h-2.5zM316.0 312.0h2.5v2.5h-2.5zM333.5 319.5h2.5v2.5h-2.5zM323.5 317.0h7.5v2.5h-7.5zM321.0 312.0h2.5v5.0h-2.5zM328.5 319.5h7.5v2.5h-7.5zM318.5 309.5h5.0v2.5h-5.0zM321.0 304.5h2.5v2.5h-2.5zM331.0 307.0h5.0v2.5h-5.0zM321.0 319.5h7.5v2.5h-7.5zM393.5 309.5h2.5v2.5h-2.5zM386.0 309.5h2.5v5.0h-2.5zM398.5 302.0h5.0v5.0h-5.0zM88.5 337.0h5.0v2.5h-5.0zM91.0 332.0h5.0v5.0h-5.0zM141.0 324.5h2.5v2.5h-2.5zM141.0 324.5h2.5v5.0h-2.5zM151.0 334.5h5.0v5.0h-5.0zM136.0 327.0h5.0v5.0h-5.0zM136.0 324.5h2.5v2.5h-2.5zM151.0 324.5h2.5v2.5h-2.5zM143.5 334.5h2.5v5.0h-2.5zM136.0 337.0h5.0v5.0h-5.0zM201.0 322.0h5.0v2.5h-5.0zM201.0 324.5h5.0v2.5h-5.0zM231.0 337.0h5.0v2.5h-5.0zM218.5 324.5h7.5v2.5h-7.5zM103.5 354.5h5.0v5.0h-5.0zM113.5 342.0h2.5v2.5h-2.5zM106.0 344.5h5.0v5.0h-5.0zM103.5 349.5h5.0v2.5h-5.0zM108.5 342.0h5.0v2.5h-5.0zM106.0 344.5h5.0v5.0h-5.0zM128.5 344.5h7.5v2.5h-7.5zM133.5 354.5h2.5v2.5h-2.5zM126.0 347.0h2.5v2.5h-2.5zM123.5 349.5h2.5v2.5h-2.5zM123.5 349.5h2.5v2.5h-2.5zM128.5 347.0h2.5v2.5h-2.5zM118.5 359.5h7.5v2.5h-7.5zM116.0 359.5h5.0v2.5h-5.0zM128.5 359.5h7.5v2.5h-7.5zM133.5 347.0h2.5v2.5h-2.5zM161.0 352.0h2.5v2.5h-2.5zM168.5 354.5h2.5v2.5h-2.5zM163.5 357.0h5.0v2.5h-5.0zM208.5 352.0h5.0v2.5h-5.0zM208.5 342.0h5.0v2.5h-5.0zM188.5 369.5h5.0v2.5h-5.0zM186.0 377.0h5.0v2.5h-5.0zM213.5 377.0h2.5v2.5h-2.5zM201.0 369.5h5.0v5.0h-5.0z"/>
<path fill="#29b6ea" d="M353.5 4.5h2.5v2.5h-2.5zM346.0 4.5h2.5v2.5h-2.5zM271.0 37.0h5.0v2.5h-5.0zM273.5 24.5h2.5v2.5h-2.5zM313.5 22.0h2.5v2.5h-2.5zM321.0 39.5h7.5v2.5h-7.5zM216.0 54.5h2.5v2.5h-2.5zM221.0 42.0h7.5v2.5h-7.5zM258.5 42.0h5.0v5.0h-5.0zM316.0 54.5h2.5v5.0h-2.5zM326.0 47.0h5.0v5.0h-5.0zM331.0 42.0h2.5v2.5h-2.5zM321.0 42.0h5.0v5.0h-5.0zM321.0 57.0h2.5v2.5h-2.5zM326.0 54.5h2.5v2.5h-2.5zM323.5 49.5h2.5v2.5h-2.5zM331.0 47.0h2.5v2.5h-2.5zM321.0 57.0h2.5v2.5h-2.5zM328.5 57.0h2.5v2.5h-2.5zM358.5 57.0h7.5v2.5h-7.5zM376.0 57.0h2.5v5.0h-2.5zM383.5 54.5h5.0v2.5h-5.0zM388.5 54.5h2.5v5.0h-2.5zM386.0 52.0h5.0v2.5h-5.0zM391.0 52.0h5.0v2.5h-5.0zM383.5 57.0h5.0v5.0h-5.0zM381.0 52.0h5.0v5.0h-5.0zM396.0 52.0h5.0v2.5h-5.0zM213.5 67.0h2.5v2.5h-2.5zM198.5 69.5h5.0v2.5h-5.0zM221.0 62.0h2.5v2.5h-2.5zM273.5 62.0h2.5v2.5h-2.5zM258.5 79.5h2.5v2.5h-2.5zM268.5 79.5h7.5v2.5h-7.5zM271.0 79.5h2.5v2.5h-2.5zM273.5 79.5h2.5v2.5h-2.5zM266.0 79.5h2.5v2.5h-2.5zM273.5 64.5h2.5v2.5h-2.5zM266.0 74.5h5.0v5.0h-5.0zM258.5 67.0h2.5v2.5h-2.5zM271.0 67.0h2.5v2.5h-2.5zM271.0 77.0h5.0v5.0h-5.0zM316.0 64.5h5.0v2.5h-5.0zM321.0 62.0h5.0v2.5h-5.0zM343.5 79.5h5.0v2.5h-5.0zM346.0 77.0h5.0v2.5h-5.0zM418.5 69.5h2.5v5.0h-2.5zM418.5 62.0h5.0v5.0h-5.0zM176.0 97.0h5.0v2.5h-5.0zM191.0 94.5h5.0v5.0h-5.0zM181.0 97.0h2.5v5.0h-2.5zM186.0 99.5h5.0v2.5h-5.0zM186.0 94.5h2.5v2.5h-2.5zM186.0 99.5h2.5v2.5h-2.5zM191.0 94.5h2.5v2.5h-2.5zM188.5 87.0h5.0v2.5h-5.0zM188.5 92.0h5.0v2.5h-5.0zM321.0 82.0h5.0v2.5h-5.0zM326.0 82.0h2.5v2.5h-2.5zM398.5 99.5h5.0v2.5h-5.0zM408.5 94.5h2.5v2.5h-2.5zM408.5 97.0h5.0v2.5h-5.0zM411.0 82.0h5.0v2.5h-5.0zM408.5 92.0h5.0v2.5h-5.0zM411.0 82.0h5.0v2.5h-5.0zM411.0 82.0h2.5v5.0h-2.5zM408.5 99.5h5.0v2.5h-5.0zM403.5 92.0h7.5v2.5h-7.5zM451.0 84.5h2.5v2.5h-2.5zM453.5 84.5h2.5v2.5h-2.5zM446.0 92.0h5.0v2.5h-5.0zM453.5 89.5h2.5v5.0h-2.5zM441.0 97.0h2.5v5.0h-2.5zM441.0 84.5h5.0v2.5h-5.0zM448.5 92.0h2.5v2.5h-2.5zM446.0 99.5h2.5v2.5h-2.5zM453.5 94.5h2.5v5.0h-2.5zM451.0 99.5h5.0v2.5h-5.0zM443.5 97.0h2.5v2.5h-2.5zM231.0 107.0h5.0v2.5h-5.0zM221.0 114.5h2.5v2.5h-2.5zM218.5 119.5h2.5v2.5h-2.5zM221.0 117.0h2.5v2.5h-2.5zM233.5 112.0h2.5v5.0h-2.5zM231.0 104.5h5.0v5.0h-5.0zM231.0 114.5h5.0v5.0h-5.0zM216.0 104.5h2.5v5.0h-2.5zM238.5 119.5h2.5v2.5h-2.5zM236.0 102.0h5.0v2.5h-5.0zM298.5 109.5h5.0v5.0h-5.0zM308.5 112.0h5.0v2.5h-5.0zM311.0 112.0h2.5v5.0h-2.5zM296.0 119.5h5.0v2.5h-5.0zM308.5 109.5h2.5v5.0h-2.5zM306.0 107.0h2.5v5.0h-2.5zM296.0 112.0h5.0v2.5h-5.0zM308.5 107.0h2.5v2.5h-2.5zM328.5 112.0h2.5v2.5h-2.5zM406.0 117.0h2.5v2.5h-2.5zM396.0 102.0h5.0v2.5h-5.0zM398.5 104.5h2.5v5.0h-2.5zM401.0 117.0h5.0v2.5h-5.0zM411.0 107.0h5.0v5.0h-5.0zM398.5 119.5h7.5v2.5h-7.5zM406.0 102.0h5.0v2.5h-5.0zM413.5 119.5h2.5v2.5h-2.5zM443.5 114.5h2.5v5.0h-2.5zM436.0 112.0h2.5v2.5h-2.5zM446.0 107.0h2.5v5.0h-2.5zM436.0 107.0h2.5v2.5h-2.5zM443.5 114.5h2.5v2.5h-2.5zM446.0 102.0h2.5v5.0h-2.5zM451.0 104.5h2.5v2.5h-2.5zM453.5 114.5h2.5v5.0h-2.5zM438.5 119.5h7.5v2.5h-7.5zM436.0 112.0h5.0v5.0h-5.0zM246.0 139.5h7.5v2.5h-7.5zM351.0 132.0h5.0v2.5h-5.0zM348.5 127.0h2.5v5.0h-2.5zM338.5 129.5h5.0v2.5h-5.0zM341.0 129.5h2.5v2.5h-2.5zM346.0 129.5h2.5v5.0h-2.5zM341.0 124.5h2.5v5.0h-2.5zM353.5 139.5h2.5v2.5h-2.5zM353.5 134.5h2.5v2.5h-2.5zM353.5 124.5h2.5v2.5h-2.5zM346.0 132.0h7.5v2.5h-7.5zM413.5 129.5h2.5v5.0h-2.5zM413.5 127.0h2.5v2.5h-2.5zM398.5 134.5h2.5v5.0h-2.5zM401.0 122.0h2.5v5.0h-2.5zM413.5 139.5h2.5v2.5h-2.5zM401.0 134.5h5.0v2.5h-5.0zM411.0 137.0h5.0v5.0h-5.0zM396.0 134.5h2.5v2.5h-2.5zM398.5 137.0h5.0v2.5h-5.0zM446.0 127.0h2.5v2.5h-2.5zM443.5 129.5h2.5v2.5h-2.5zM446.0 124.5h7.5v5.0h-7.5zM468.5 127.0h7.5v2.5h-7.5zM21.0 147.0h7.5v2.5h-7.5zM36.0 157.0h5.0v5.0h-5.0zM43.5 159.5h7.5v2.5h-7.5zM53.5 149.5h2.5v2.5h-2.5zM46.0 159.5h2.5v2.5h-2.5zM53.5 159.5h2.5v2.5h-2.5zM51.0 147.0h2.5v5.0h-2.5zM41.0 152.0h2.5v5.0h-2.5zM53.5 154.5h2.5v2.5h-2.5zM38.5 152.0h2.5v2.5h-2.5zM46.0 159.5h7.5v2.5h-7.5zM111.0 147.0h2.5v5.0h-2.5zM168.5 147.0h5.0v5.0h-5.0zM278.5 159.5h5.0v2.5h-5.0zM288.5 147.0h7.5v5.0h-7.5zM281.0 147.0h5.0v5.0h-5.0zM276.0 144.5h7.5v2.5h-7.5zM286.0 147.0h2.5v2.5h-2.5zM283.5 154.5h7.5v2.5h-7.5zM298.5 152.0h2.5v5.0h-2.5zM306.0 147.0h5.0v5.0h-5.0zM298.5 147.0h7.5v5.0h-7.5zM301.0 147.0h7.5v5.0h-7.5zM328.5 142.0h2.5v2.5h-2.5zM316.0 152.0h2.5v5.0h-2.5zM331.0 142.0h5.0v5.0h-5.0zM326.0 152.0h5.0v2.5h-5.0zM331.0 152.0h5.0v2.5h-5.0zM316.0 147.0h5.0v2.5h-5.0zM333.5 159.5h2.5v2.5h-2.5zM321.0 154.5h5.0v5.0h-5.0zM71.0 177.0h5.0v2.5h-5.0zM56.0 172.0h2.5v2.5h-2.5zM86.0 179.5h2.5v2.5h-2.5zM116.0 164.5h5.0v2.5h-5.0zM311.0 177.0h2.5v2.5h-2.5zM316.0 177.0h7.5v2.5h-7.5zM323.5 169.5h2.5v2.5h-2.5zM316.0 179.5h7.5v2.5h-7.5zM316.0 169.5h2.5v2.5h-2.5zM333.5 169.5h2.5v2.5h-2.5zM316.0 167.0h7.5v2.5h-7.5zM323.5 174.5h7.5v5.0h-7.5zM143.5 189.5h5.0v5.0h-5.0zM138.5 182.0h2.5v2.5h-2.5zM151.0 197.0h5.0v2.5h-5.0zM136.0 182.0h2.5v2.5h-2.5zM153.5 197.0h2.5v5.0h-2.5zM138.5 182.0h2.5v2.5h-2.5zM153.5 192.0h2.5v2.5h-2.5zM146.0 182.0h2.5v2.5h-2.5zM136.0 189.5h7.5v2.5h-7.5zM151.0 184.5h5.0v2.5h-5.0zM163.5 197.0h7.5v2.5h-7.5zM311.0 194.5h5.0v5.0h-5.0zM421.0 194.5h5.0v2.5h-5.0zM433.5 184.5h2.5v5.0h-2.5zM433.5 194.5h2.5v2.5h-2.5zM431.0 184.5h5.0v2.5h-5.0zM433.5 187.0h2.5v5.0h-2.5zM418.5 187.0h5.0v2.5h-5.0zM423.5 192.0h2.5v2.5h-2.5zM428.5 187.0h7.5v2.5h-7.5zM431.0 187.0h5.0v2.5h-5.0zM356.0 207.0h5.0v2.5h-5.0zM366.0 207.0h5.0v2.5h-5.0zM366.0 204.5h2.5v2.5h-2.5zM371.0 212.0h5.0v2.5h-5.0zM366.0 204.5h5.0v2.5h-5.0zM368.5 202.0h5.0v5.0h-5.0zM361.0 214.5h2.5v2.5h-2.5zM358.5 204.5h2.5v5.0h-2.5zM356.0 202.0h2.5v2.5h-2.5zM403.5 214.5h2.5v2.5h-2.5zM408.5 212.0h2.5v5.0h-2.5zM408.5 204.5h7.5v5.0h-7.5zM396.0 207.0h2.5v5.0h-2.5zM396.0 217.0h2.5v2.5h-2.5zM406.0 212.0h5.0v2.5h-5.0zM413.5 202.0h2.5v2.5h-2.5zM406.0 212.0h7.5v2.5h-7.5zM233.5 232.0h2.5v2.5h-2.5zM216.0 224.5h2.5v2.5h-2.5zM223.5 222.0h7.5v2.5h-7.5zM216.0 234.5h7.5v2.5h-7.5zM221.0 234.5h2.5v2.5h-2.5zM216.0 222.0h2.5v5.0h-2.5zM221.0 224.5h7.5v2.5h-7.5zM218.5 234.5h5.0v5.0h-5.0zM276.0 237.0h7.5v2.5h-7.5zM281.0 234.5h7.5v2.5h-7.5zM278.5 239.5h2.5v2.5h-2.5zM278.5 229.5h5.0v2.5h-5.0zM281.0 224.5h5.0v2.5h-5.0zM276.0 232.0h2.5v2.5h-2.5zM278.5 234.5h5.0v2.5h-5.0zM276.0 222.0h5.0v2.5h-5.0zM291.0 227.0h5.0v2.5h-5.0zM316.0 232.0h2.5v2.5h-2.5zM318.5 224.5h5.0v2.5h-5.0zM371.0 227.0h2.5v2.5h-2.5zM456.0 237.0h7.5v2.5h-7.5zM168.5 252.0h5.0v2.5h-5.0zM158.5 249.5h2.5v2.5h-2.5zM203.5 259.5h2.5v2.5h-2.5zM236.0 259.5h2.5v2.5h-2.5zM246.0 254.5h5.0v5.0h-5.0zM343.5 252.0h7.5v2.5h-7.5zM371.0 257.0h5.0v2.5h-5.0zM363.5 259.5h5.0v2.5h-5.0zM408.5 252.0h5.0v2.5h-5.0zM436.0 259.5h5.0v2.5h-5.0zM451.0 257.0h5.0v5.0h-5.0zM436.0 249.5h5.0v5.0h-5.0zM443.5 259.5h5.0v2.5h-5.0zM446.0 247.0h7.5v2.5h-7.5zM446.0 244.5h5.0v2.5h-5.0zM466.0 247.0h5.0v5.0h-5.0zM458.5 249.5h5.0v2.5h-5.0zM466.0 257.0h5.0v2.5h-5.0zM466.0 252.0h5.0v2.5h-5.0zM473.5 242.0h2.5v5.0h-2.5zM458.5 259.5h2.5v2.5h-2.5zM458.5 257.0h7.5v2.5h-7.5zM471.0 242.0h2.5v2.5h-2.5zM136.0 274.5h7.5v2.5h-7.5zM136.0 262.0h2.5v2.5h-2.5zM148.5 272.0h2.5v2.5h-2.5zM151.0 272.0h2.5v2.5h-2.5zM136.0 272.0h5.0v2.5h-5.0zM148.5 277.0h2.5v2.5h-2.5zM153.5 274.5h2.5v2.5h-2.5zM151.0 262.0h2.5v2.5h-2.5zM141.0 269.5h2.5v5.0h-2.5zM141.0 264.5h5.0v5.0h-5.0zM206.0 277.0h2.5v5.0h-2.5zM243.5 272.0h7.5v2.5h-7.5zM271.0 272.0h2.5v2.5h-2.5zM276.0 264.5h2.5v5.0h-2.5zM293.5 267.0h2.5v5.0h-2.5zM278.5 264.5h5.0v5.0h-5.0zM283.5 279.5h5.0v2.5h-5.0zM293.5 262.0h2.5v2.5h-2.5zM276.0 272.0h5.0v5.0h-5.0zM288.5 277.0h2.5v2.5h-2.5zM276.0 262.0h2.5v5.0h-2.5zM301.0 274.5h5.0v2.5h-5.0zM306.0 264.5h5.0v2.5h-5.0zM301.0 264.5h5.0v2.5h-5.0zM313.5 272.0h2.5v5.0h-2.5zM313.5 277.0h2.5v2.5h-2.5zM301.0 262.0h2.5v2.5h-2.5zM311.0 279.5h5.0v2.5h-5.0zM313.5 267.0h2.5v2.5h-2.5zM308.5 262.0h2.5v2.5h-2.5zM313.5 264.5h2.5v2.5h-2.5zM296.0 264.5h5.0v5.0h-5.0zM373.5 274.5h2.5v2.5h-2.5zM356.0 262.0h2.5v5.0h-2.5zM373.5 279.5h2.5v2.5h-2.5zM373.5 274.5h2.5v2.5h-2.5zM366.0 262.0h7.5v2.5h-7.5zM371.0 277.0h2.5v2.5h-2.5zM373.5 279.5h2.5v2.5h-2.5zM358.5 279.5h5.0v2.5h-5.0zM358.5 279.5h2.5v2.5h-2.5zM371.0 277.0h2.5v5.0h-2.5zM356.0 264.5h7.5v5.0h-7.5zM396.0 274.5h5.0v5.0h-5.0zM428.5 264.5h2.5v2.5h-2.5zM423.5 264.5h5.0v2.5h-5.0zM151.0 282.0h5.0v2.5h-5.0zM168.5 282.0h7.5v5.0h-7.5zM203.5 294.5h5.0v2.5h-5.0zM298.5 289.5h7.5v5.0h-7.5zM351.0 297.0h5.0v5.0h-5.0zM193.5 307.0h2.5v2.5h-2.5zM183.5 312.0h2.5v2.5h-2.5zM178.5 317.0h5.0v5.0h-5.0zM176.0 309.5h7.5v5.0h-7.5zM181.0 307.0h5.0v2.5h-5.0zM181.0 307.0h5.0v2.5h-5.0zM176.0 309.5h5.0v2.5h-5.0zM203.5 314.5h5.0v2.5h-5.0zM336.0 317.0h7.5v2.5h-7.5zM356.0 317.0h2.5v2.5h-2.5zM368.5 304.5h5.0v2.5h-5.0zM108.5 332.0h5.0v2.5h-5.0zM113.5 327.0h2.5v5.0h-2.5zM126.0 332.0h7.5v2.5h-7.5zM166.0 322.0h2.5v5.0h-2.5zM173.5 322.0h2.5v5.0h-2.5zM333.5 337.0h2.5v2.5h-2.5zM86.0 354.5h2.5v5.0h-2.5zM86.0 359.5h5.0v2.5h-5.0zM151.0 349.5h5.0v2.5h-5.0zM136.0 357.0h5.0v5.0h-5.0zM136.0 354.5h5.0v5.0h-5.0zM141.0 359.5h2.5v2.5h-2.5zM153.5 354.5h2.5v2.5h-2.5zM143.5 357.0h7.5v2.5h-7.5zM148.5 354.5h7.5v2.5h-7.5zM83.5 367.0h5.0v2.5h-5.0zM93.5 379.5h2.5v2.5h-2.5zM113.5 367.0h2.5v5.0h-2.5z"/>
<path fill="#e0dc25" d="M281.0 37.0h7.5v2.5h-7.5zM291.0 37.0h5.0v2.5h-5.0zM286.0 22.0h2.5v5.0h-2.5zM286.0 34.5h2.5v2.5h-2.5zM291.0 27.0h5.0v2.5h-5.0zM286.0 27.0h7.5v2.5h-7.5zM286.0 29.5h2.5v2.5h-2.5zM281.0 22.0h7.5v2.5h-7.5zM238.5 44.5h2.5v2.5h-2.5zM238.5 49.5h7.5v5.0h-7.5zM236.0 44.5h5.0v5.0h-5.0zM248.5 52.0h2.5v5.0h-2.5zM248.5 49.5h5.0v2.5h-5.0zM241.0 52.0h5.0v2.5h-5.0zM248.5 217.0h5.0v2.5h-5.0zM243.5 212.0h2.5v2.5h-2.5zM246.0 202.0h5.0v2.5h-5.0zM243.5 217.0h5.0v5.0h-5.0zM236.0 209.5h5.0v2.5h-5.0zM238.5 209.5h5.0v5.0h-5.0zM238.5 202.0h5.0v2.5h-5.0z"/>
<path fill="#e0dc25" d="M246 189h7.5v10h-7.5zM243.5 199h10v14h-10zM246 213h7.5v9h-7.5zM228.5 210h3v3h-3zM257 174h3v3h-3zM262 177h4v3h-4zM270 174h3v3h-3zM277 177h4v3h-4zM292 174h3v3h-3zM364 133h2.6v8h-2.6zM371 133h2.6v8h-2.6zM375 85.5h4v4h-4zM347.5 159h7v5h-7zM350 164h5v8h-5zM420 163h5v10h-5zM455 172h4v10h-4zM347.5 216h4v4h-4zM351.5 213h4v4h-4zM190 134h8v3h-8zM190 137h4v5h-4z"/>
<path fill="#e09314" d="M196 55h8.5v7h-8.5zM196 50h4.5v5h-4.5z"/>
</g>
</g>
<use href="#lines"/>
</g>
<g transform="translate(650,0)">
<g clip-path="url(#cp)">
<g filter="url(#lai)">
<rect x="-10" y="-10" width="520" height="400" fill="rgb(67,67,67)"/>
<ellipse cx="304" cy="125" rx="78" ry="58" fill="url(#gw)" opacity="0.46"/>
<ellipse cx="409" cy="112" rx="78" ry="60" fill="url(#gw)" opacity="0.54"/>
<ellipse cx="409" cy="222" rx="88" ry="88" fill="url(#gw)" opacity="0.58"/>
<ellipse cx="264" cy="205" rx="68" ry="62" fill="url(#gw)" opacity="0.46"/>
<ellipse cx="329" cy="275" rx="75" ry="62" fill="url(#gw)" opacity="0.46"/>
<ellipse cx="184" cy="235" rx="55" ry="34" fill="url(#gw)" opacity="0.46"/>
<ellipse cx="174" cy="170" rx="62" ry="40" fill="url(#gw)" opacity="0.28"/>
<ellipse cx="119" cy="295" rx="34" ry="48" fill="url(#gw)" opacity="0.26"/>
<ellipse cx="250" cy="150" rx="45" ry="35" fill="url(#gw)" opacity="0.22"/>
<ellipse cx="360" cy="190" rx="70" ry="70" fill="url(#gw)" opacity="0.22"/>
<ellipse cx="59" cy="180" rx="85" ry="50" fill="url(#gk)" opacity="0.10"/>
<ellipse cx="209" cy="70" rx="75" ry="40" fill="url(#gk)" opacity="0.10"/>
<ellipse cx="334" cy="25" rx="50" ry="32" fill="url(#gk)" opacity="0.10"/>
<ellipse cx="174" cy="320" rx="85" ry="50" fill="url(#gk)" opacity="0.08"/>
<ellipse cx="459" cy="190" rx="30" ry="50" fill="url(#gk)" opacity="0.12"/>
<ellipse cx="459" cy="100" rx="26" ry="50" fill="url(#gk)" opacity="0.10"/>
</g>
</g>
<use href="#lines"/>
</g>
<g transform="translate(0,410.5)">
<g clip-path="url(#cp)">
<rect x="-10" y="-10" width="520" height="400" fill="#29b6ea"/>
<polygon points="150.0,64.5 172.5,114.5 175.0,124.5 177.5,137.0 185.0,144.5 197.5,149.5 205.0,159.5 212.5,169.5 207.5,159.5 215.0,169.5 220.0,179.5 215.0,187.0 225.0,179.5 232.5,172.0 242.5,177.0 255.0,182.0 265.0,183.2 277.5,179.5 287.5,174.5 295.0,169.5 305.0,167.0 315.0,167.0 325.0,169.5 335.0,167.0 350.0,164.5 362.5,162.0 375.0,157.0 387.5,154.5 400.0,152.0 412.5,149.5 425.0,144.5 435.0,137.0 440.0,129.5 440.0,119.5 447.5,112.0 452.5,107.0 442.5,99.5 445.0,89.5 450.0,79.5 455.0,72.0 457.5,59.5 475.0,52.0 475.0,-23.0 150.0,-23.0" fill="#e0dc25"/>
<polygon points="150.0,64.5 162.5,84.5 185.0,82.5 197.5,79.5 210.0,74.5 217.5,82.0 220.0,94.5 225.0,104.5 232.5,114.5 237.5,124.5 242.5,134.5 246.2,144.5 252.5,152.0 262.5,155.8 275.0,159.5 287.5,154.5 295.0,149.5 300.0,144.5 307.5,149.5 317.5,152.0 327.5,149.5 335.0,144.5 342.5,139.5 347.5,132.0 355.0,129.5 367.5,127.0 380.0,128.2 385.0,122.0 377.5,117.0 382.5,109.5 390.0,104.5 400.0,99.5 410.0,92.0 420.0,89.5 412.5,84.5 416.2,77.0 417.5,69.5 412.5,59.5 425.0,52.0 425.0,-23.0 150.0,-23.0" fill="#e09314"/>
<polygon points="360.0,17.0 375.0,15.8 380.0,22.0 382.5,32.0 386.2,43.2 397.5,52.0 395.0,59.5 387.5,64.5 383.8,74.5 377.5,84.5 375.0,94.5 370.0,102.0 360.0,103.2 350.0,104.5 347.5,114.5 342.5,122.0 335.0,125.8 325.0,124.5 312.5,125.8 310.0,134.5 300.0,133.2 290.0,133.2 277.5,137.0 267.5,138.2 261.2,132.0 258.8,119.5 260.0,109.5 250.0,104.5 245.0,97.0 248.8,84.5 257.5,72.0 267.5,67.0 277.5,62.0 287.5,64.5 300.0,67.0 310.0,60.8 317.5,54.5 316.2,43.2 325.0,35.8 335.0,30.8 340.0,23.2 350.0,19.5" fill="#a01f27"/>
<polygon points="0.0,130.0 150.0,131.0 160.0,139.5 165.0,149.5 160.0,159.5 150.0,169.5 140.0,177.0 130.0,182.0 122.0,186.0 110.0,180.0 100.0,184.5 82.5,192.0 65.0,199.5 60.0,210.0 55.0,225.0 0.0,230.0" fill="#107d9f"/>
<polygon points="0.0,140.0 110.0,140.0 105.5,153.6 106.7,163.8 89.0,179.0 76.0,176.5 61.0,177.8 50.8,185.4 38.0,190.5 19.0,197.5 5.0,197.0 0.0,180.0" fill="#0d4a6f"/>
<polygon points="165.0,242.0 167.5,232.0 180.0,227.0 195.0,222.0 207.5,219.5 215.0,212.0 225.0,212.0 235.0,207.0 245.0,204.5 255.0,203.2 265.0,202.0 275.0,194.5 285.0,189.5 292.5,182.0 300.0,179.5 312.5,179.5 325.0,180.8 340.0,182.0 355.0,180.8 370.0,179.5 385.0,174.5 400.0,175.8 410.0,170.8 420.0,172.0 422.5,179.5 450.0,167.0 500.0,204.5 500.0,342.0 335.0,342.0 332.5,319.5 327.5,309.5 322.5,302.0 317.5,294.5 325.0,292.0 335.0,287.0 342.5,279.5 350.0,272.0 357.5,264.5 352.5,257.0 342.5,257.0 335.0,264.5 332.5,272.0 325.0,277.0 320.0,284.5 310.0,289.5 302.5,287.0 292.5,282.0 285.0,274.5 280.0,264.5 275.0,254.5 267.5,249.5 257.5,247.0 245.0,242.0 232.5,239.5 220.0,242.0 220.0,242.0 215.0,244.5 212.5,254.5 215.0,264.5 212.5,273.2 205.0,275.8 195.0,272.0 185.0,269.5 175.0,264.5 170.0,254.5 172.5,247.0" fill="#107d9f"/>
<polygon points="170.0,207.0 182.5,202.0 195.0,204.5 207.5,212.0 202.5,219.5 190.0,220.8 177.5,217.0" fill="#107d9f"/>
<polygon points="285.0,204.5 300.0,202.0 312.5,204.5 325.0,209.5 335.0,213.2 345.0,215.8 340.0,222.0 330.0,225.8 328.8,234.5 332.5,244.5 335.0,252.0 325.0,253.2 317.5,257.0 317.5,262.0 307.5,259.5 297.5,255.8 290.0,249.5 282.5,242.0 275.0,234.5 272.5,227.0 277.5,217.0" fill="#0d4a6f"/>
<polygon points="422.5,179.5 415.0,189.5 405.0,197.0 395.0,202.0 385.0,207.0 375.0,212.0 367.5,215.8 372.5,224.5 380.0,229.5 385.0,237.0 387.5,247.0 390.0,257.0 393.8,267.0 395.0,279.5 392.5,292.0 393.8,304.5 400.0,312.0 407.5,329.5 500.0,329.5 500.0,159.5 450.0,162.0 432.5,169.5 423.8,178.2" fill="#0d4a6f"/>
<polygon points="86.2,217.0 95.0,207.0 105.0,204.5 115.0,207.0 122.5,217.0 130.0,220.8 140.0,224.5 150.0,229.5 155.0,237.0 152.5,244.5 160.0,252.0 150.0,257.0 140.0,262.0 145.0,267.0 152.5,277.0 162.5,284.5 172.5,292.0 180.0,299.5 187.5,302.0 193.8,294.5 202.5,289.5 212.5,282.0 225.0,275.8 240.0,274.5 255.0,279.5 270.0,282.0 277.5,289.5 282.5,294.5 282.5,329.5 225.0,354.5 212.5,392.0 75.0,392.0 37.5,292.0 75.0,229.5" fill="#e0dc25"/>
<polygon points="125.0,329.5 135.0,327.0 145.0,319.5 150.0,309.5 152.5,299.5 155.0,294.5 165.0,302.0 175.0,312.0 185.0,322.0 195.0,332.0 205.0,342.0 212.5,349.5 210.0,359.5 197.5,374.5 175.0,369.5 150.0,359.5 135.0,344.5" fill="#29b6ea"/>
<polygon points="75.0,274.5 92.5,267.0 95.0,277.0 87.5,289.5 77.5,284.5" fill="#29b6ea"/>
<polygon points="242.5,265.8 247.5,262.0 252.5,265.8 247.5,267.5" fill="#e0dc25"/>
<polygon points="258.8,285.8 263.8,283.2 266.2,292.0 261.2,293.2" fill="#29b6ea"/>
</g>
<use href="#lines"/>
</g>
<g transform="translate(650,410.5)">
<g clip-path="url(#cp)">
<rect x="-10" y="-10" width="520" height="400" fill="#1f9fd6"/>
<polygon points="215.0,54.5 207.5,67.0 206.2,77.0 212.5,87.0 220.0,94.5 227.5,99.5 240.0,107.0 250.0,114.5 260.0,122.0 262.5,129.5 257.5,139.5 252.5,149.5 262.5,149.5 275.0,149.5 285.0,139.5 295.0,129.5 305.0,119.5 312.5,109.5 317.5,99.5 340.0,99.5 340.0,84.5 345.0,72.0 355.0,64.5 352.5,59.5 345.0,53.2 335.0,54.5 325.0,59.5 312.5,64.5 300.0,62.0 298.8,52.0 300.0,38.2 292.5,34.5 275.0,27.0 260.0,27.0 215.0,39.5" fill="#107d9f"/>
<polygon points="340.0,72.0 350.0,74.5 360.0,89.5 365.0,107.0 365.0,117.0 360.0,129.5 357.5,144.5 360.0,152.0 350.0,154.5 340.0,152.0 336.2,144.5 342.5,134.5 345.0,119.5 342.5,104.5 337.5,92.0" fill="#107d9f"/>
<polygon points="450.0,64.5 455.0,62.0 475.0,79.5 475.0,139.5 450.0,147.0 440.0,149.5 435.0,144.5 425.0,139.5 410.0,137.0 402.5,129.5 405.0,114.5 400.0,102.0 407.5,94.5 420.0,88.2 435.0,87.0 445.0,74.5" fill="#107d9f"/>
<polygon points="427.5,132.0 440.0,127.0 455.0,122.0 453.8,109.5 460.0,107.0 475.0,114.5 475.0,144.5 450.0,147.0 440.0,149.5 432.5,142.0" fill="#0d4a6f"/>
<polygon points="407.5,142.0 420.0,142.0 435.0,147.0 425.0,154.5 417.5,152.0 410.0,149.5" fill="#107d9f"/>
<polygon points="410.0,142.0 425.0,139.5 435.0,144.5 430.0,157.0 420.0,159.5 412.5,152.0" fill="#107d9f"/>
<polygon points="430.0,179.5 425.0,169.5 450.0,164.5 487.5,167.0 487.5,194.5 460.0,202.0 455.0,192.0 445.0,187.0 435.0,185.8" fill="#107d9f"/>
<polygon points="425.0,127.0 487.5,127.0 465.0,137.0 450.0,144.5 440.0,147.0 432.5,139.5" fill="#0d4a6f"/>
<polygon points="0.0,189.5 0.0,152.0 30.0,139.5 38.8,152.0 35.0,164.5 30.0,174.5 25.0,186.2 12.5,179.5 45.0,179.5 50.0,189.5 47.5,199.5 37.5,207.0 25.0,208.2 15.0,212.0 7.5,194.5" fill="#107d9f"/>
<polygon points="132.5,164.5 135.0,149.5 150.0,144.5 170.0,139.5 185.0,134.5 197.5,132.5 200.0,142.0 197.5,149.5 207.5,152.0 215.0,152.0 225.0,149.5 235.0,144.5 247.5,142.0 252.5,152.0 262.5,149.5 340.0,149.5 350.0,167.0 355.0,179.5 357.5,194.5 365.0,212.0 360.0,224.5 350.0,232.0 340.0,239.5 332.5,237.0 325.0,229.5 312.5,227.0 302.5,224.5 282.5,220.8 263.8,222.0 262.5,239.5 258.0,250.0 251.0,258.0 235.0,262.0 215.0,268.0 203.0,268.0 212.5,264.5 202.5,262.0 197.5,252.0 192.5,239.5 195.0,229.5 190.0,219.5 175.0,212.0 165.0,204.5 150.0,197.0 140.0,189.5 135.0,179.5" fill="#107d9f"/>
<polygon points="150.0,154.5 160.0,147.0 175.0,144.5 182.5,152.0 190.0,164.5 197.5,174.5 200.0,187.0 200.0,202.0 190.0,194.5 175.0,192.0 160.0,187.0 147.5,179.5 147.5,169.5" fill="#0d4a6f"/>
<polygon points="311.2,94.5 317.5,87.0 330.0,89.5 338.8,97.0 340.0,109.5 345.0,122.0 340.0,137.0 336.2,149.5 342.5,154.5 330.0,162.0 330.0,172.0 325.0,182.0 327.5,192.0 335.0,197.0 332.5,207.0 325.0,212.0 320.0,219.5 312.5,214.5 305.0,212.0 297.5,204.5 287.5,199.5 280.0,197.0 272.5,202.0 265.0,209.5 255.0,207.0 245.0,212.0 235.0,214.5 225.0,212.0 215.0,209.5 207.5,202.0 210.0,194.5 222.5,189.5 235.0,192.0 247.5,189.5 257.5,184.5 260.0,174.5 260.0,174.5 262.5,159.5 272.5,149.5 280.0,137.0 290.0,127.0 300.0,117.0 308.8,107.0" fill="#0d4a6f"/>
<polygon points="215.0,240.8 235.0,242.0 233.8,254.5 217.5,257.0" fill="#0d4a6f"/>
<polygon points="120.0,314.5 127.5,304.5 140.0,299.5 152.5,304.5 162.5,314.5 165.0,329.5 162.5,339.5 155.0,349.5 145.0,344.5 130.0,342.0 122.5,334.5 120.0,324.5" fill="#107d9f"/>
<polygon points="138.8,324.5 145.0,322.0 153.8,325.8 155.0,333.2 148.8,338.2 141.2,335.8 137.5,330.8" fill="#0d4a6f"/>
<polygon points="60.0,284.5 67.5,274.5 77.5,272.0 80.0,284.5 77.5,297.0 72.5,299.5 65.0,294.5" fill="#107d9f"/>
<polygon points="72.5,204.5 85.0,202.0 95.0,197.0 105.0,194.5 117.5,192.0 130.0,197.0 140.0,202.0 150.0,209.5 162.5,217.0 172.5,222.0 180.0,229.5 185.0,242.0 187.5,257.0 192.5,267.0 200.0,277.0 207.5,279.5 215.0,277.0 225.0,274.5 235.0,272.0 237.5,273.2 250.0,277.0 262.5,279.5 270.0,279.5 267.5,269.5 260.0,259.5 265.0,252.0 277.5,254.5 287.5,252.0 295.0,247.0 292.5,237.0 300.0,229.5 310.0,230.8 320.0,234.5 330.0,242.0 340.0,247.0 350.0,242.0 362.5,237.0 372.5,229.5 380.0,222.0 387.5,212.0 392.5,204.5 400.0,207.0 407.5,209.5 417.5,205.8 425.0,209.5 435.0,205.8 447.5,210.8 452.5,219.5 457.5,227.0 500.0,242.0 500.0,354.5 200.0,404.5 155.0,354.5 162.5,339.5 170.0,324.5 170.0,309.5 165.0,299.5 155.0,292.0 147.5,284.5 137.5,274.5 130.0,267.0 125.0,259.5 117.5,254.5 112.5,257.0 105.0,262.0 97.5,269.5 100.0,259.5 107.5,252.0 112.5,244.5 110.0,234.5 112.5,224.5 117.5,217.0 115.0,209.5 107.5,202.0 100.0,199.5 92.5,204.5 85.0,209.5 75.0,209.5" fill="#e0dc25"/>
<polygon points="330.0,257.0 340.0,252.0 350.0,249.5 362.5,244.5 375.0,237.0 387.5,232.0 400.0,227.0 407.5,225.8 420.0,229.5 430.0,237.0 440.0,242.0 450.0,247.0 462.5,250.8 500.0,252.0 500.0,329.5 352.5,329.5 352.5,309.5 347.5,294.5 340.0,284.5 332.5,272.0" fill="#e09314"/>
<polygon points="372.5,257.0 382.5,252.0 395.0,248.2 405.0,247.0 415.0,252.0 425.0,257.0 435.0,262.0 445.0,267.0 452.5,272.0 457.5,275.8 475.0,284.5 475.0,329.5 405.0,329.5 390.0,304.5 380.0,297.0 375.0,289.5 370.0,279.5 367.5,269.5" fill="#a01f27"/>
<polygon points="125.0,224.5 135.0,227.0 150.0,229.5 160.0,233.2 170.0,237.0 177.5,244.5 180.0,257.0 183.8,267.0 180.0,277.0 172.5,279.5 162.5,274.5 155.0,272.0 147.5,264.5 140.0,257.0 135.0,247.0 130.0,237.0" fill="#e09314"/>
<polygon points="175.0,334.5 185.0,327.0 197.5,324.5 207.5,329.5 212.5,339.5 210.0,352.0 202.5,362.0 197.5,377.0 187.5,377.0 177.5,362.0 172.5,352.0 171.2,342.0" fill="#e09314"/>
<polygon points="247.5,324.5 251.2,312.0 255.0,304.5 260.0,314.5 265.0,323.2 255.0,325.8" fill="#e09314"/>
<polygon points="311.2,237.0 316.2,237.0 317.0,242.0 312.0,242.5" fill="#e09314"/>
<polygon points="310.0,267.0 316.2,269.5 321.2,277.0 315.0,274.5" fill="#1f9fd6"/>
<polygon points="96.2,327.0 105.0,332.0 107.5,344.5 110.0,354.5 117.5,359.5 107.5,369.5 93.8,379.5 75.0,369.5 78.8,359.5 86.2,347.0 91.2,334.5" fill="#e0dc25"/>
<polygon points="85.0,365.8 95.0,344.5 100.0,335.8 98.0,349.5 89.5,367.5" fill="#1f9fd6"/>
<polygon points="80.0,304.5 87.5,299.5 89.5,308.2 83.8,310.8" fill="#e0dc25"/>
<polygon points="207.5,52.0 200.0,45.8 190.0,37.0 185.0,39.5 185.0,75.8 188.8,88.2 192.5,82.0 196.2,72.0 200.0,62.0" fill="#e0dc25"/>
<polygon points="202.5,52.0 200.0,45.8 191.2,38.2 185.0,39.5 185.0,75.8 186.2,84.0 190.0,79.5 193.8,69.5 197.5,59.5" fill="#e09314"/>
<polygon points="150.0,39.5 193.8,38.2 193.8,49.5 191.2,62.0 186.2,72.0 182.5,79.5 150.0,79.5" fill="#a01f27"/>
<polygon points="131.2,145.8 135.0,132.0 140.0,117.0 155.0,114.5 162.5,124.5 175.0,124.5 187.5,123.2 200.0,119.5 212.5,115.8 215.0,120.8 205.0,127.0 190.0,129.5 175.0,132.0 160.0,134.5 147.5,139.5 137.5,147.0" fill="#e0dc25"/>
<polygon points="138.8,125.8 143.8,118.2 155.0,117.0 158.8,123.2 150.0,127.0 142.5,128.8" fill="#e09314"/>
<polygon points="82.5,162.0 92.5,157.0 102.5,162.0 103.8,174.5 100.0,187.0 80.0,187.0 70.0,172.0 67.5,168.2 75.0,174.0 82.5,174.5" fill="#e0dc25"/>
<polygon points="110.0,152.0 127.5,147.0 125.0,152.0 117.5,159.5 116.2,174.5 110.0,187.0 105.0,187.0 110.0,169.5 111.2,159.5" fill="#e0dc25"/>
<polygon points="226.2,154.5 230.0,142.0 233.8,144.5 228.8,155.8" fill="#e0dc25"/>
<polygon points="60.0,144.5 65.5,141.5 68.8,145.8 62.5,147.5" fill="#e09314"/>
<polygon points="310.0,24.5 315.0,14.5 322.5,10.8 336.2,9.5 337.5,22.0 332.5,30.8 325.0,24.5 317.5,25.8" fill="#e0dc25"/>
<polygon points="350.0,19.5 360.0,14.5 375.0,12.0 390.0,17.0 392.5,37.0 400.0,47.0 407.5,48.2 400.0,62.0 402.5,74.5 412.5,62.0 415.0,72.0 405.0,77.0 392.5,85.8 380.0,82.0 371.2,78.2 370.0,67.0 362.5,59.5 363.8,49.5 355.0,39.5 352.5,29.5" fill="#e0dc25"/>
</g>
<use href="#lines"/>
</g>
<rect x="500" y="32.70" width="20.3" height="51.95" fill="#0d4a6f"/>
<rect x="500" y="84.45" width="20.3" height="51.95" fill="#107d9f"/>
<rect x="500" y="136.20" width="20.3" height="51.95" fill="#29b6ea"/>
<rect x="500" y="187.95" width="20.3" height="51.95" fill="#e0dc25"/>
<rect x="500" y="239.70" width="20.3" height="51.95" fill="#e09314"/>
<rect x="500" y="291.45" width="20.3" height="51.95" fill="#a01f27"/>
<line x1="500" y1="84.45" x2="520.3" y2="84.45" stroke="#7f7f7f" stroke-width="1"/>
<line x1="500" y1="136.20" x2="520.3" y2="136.20" stroke="#7f7f7f" stroke-width="1"/>
<line x1="500" y1="187.95" x2="520.3" y2="187.95" stroke="#7f7f7f" stroke-width="1"/>
<line x1="500" y1="239.70" x2="520.3" y2="239.70" stroke="#7f7f7f" stroke-width="1"/>
<line x1="500" y1="291.45" x2="520.3" y2="291.45" stroke="#7f7f7f" stroke-width="1"/>
<rect x="500" y="32.7" width="20.3" height="310.50" fill="none" stroke="#7f7f7f" stroke-width="1"/>
<text class="l" transform="translate(527.7,40.3) scale(0.96,1)">0.016</text>
<text class="l" transform="translate(527.7,92.1) scale(0.96,1)">−0.24</text>
<text class="l" transform="translate(527.7,143.9) scale(0.96,1)">−0.34</text>
<text class="l" transform="translate(527.7,195.7) scale(0.96,1)">−0.47</text>
<text class="l" transform="translate(527.7,247.5) scale(0.96,1)">−0.77</text>
<text class="l" transform="translate(527.7,299.3) scale(0.96,1)">−1.17</text>
<text class="l" transform="translate(527.7,351.1) scale(0.96,1)">−1.62</text>
<rect x="1148.4" y="32.70" width="20.3" height="51.95" fill="#0d4a6f"/>
<rect x="1148.4" y="84.45" width="20.3" height="51.95" fill="#107d9f"/>
<rect x="1148.4" y="136.20" width="20.3" height="51.95" fill="#29b6ea"/>
<rect x="1148.4" y="187.95" width="20.3" height="51.95" fill="#e0dc25"/>
<rect x="1148.4" y="239.70" width="20.3" height="51.95" fill="#e09314"/>
<rect x="1148.4" y="291.45" width="20.3" height="51.95" fill="#a01f27"/>
<line x1="1148.4" y1="84.45" x2="1168.7" y2="84.45" stroke="#7f7f7f" stroke-width="1"/>
<line x1="1148.4" y1="136.20" x2="1168.7" y2="136.20" stroke="#7f7f7f" stroke-width="1"/>
<line x1="1148.4" y1="187.95" x2="1168.7" y2="187.95" stroke="#7f7f7f" stroke-width="1"/>
<line x1="1148.4" y1="239.70" x2="1168.7" y2="239.70" stroke="#7f7f7f" stroke-width="1"/>
<line x1="1148.4" y1="291.45" x2="1168.7" y2="291.45" stroke="#7f7f7f" stroke-width="1"/>
<rect x="1148.4" y="32.7" width="20.3" height="310.50" fill="none" stroke="#7f7f7f" stroke-width="1"/>
<text class="l" transform="translate(1176.7,40.6) scale(0.96,1)">0.15</text>
<text class="l" transform="translate(1176.7,92.4) scale(0.96,1)">0.03</text>
<text class="l" transform="translate(1176.7,144.2) scale(0.96,1)">0.02</text>
<text class="l" transform="translate(1176.7,196.0) scale(0.96,1)">0.01</text>
<text class="l" transform="translate(1176.7,247.8) scale(0.96,1)">−0.01</text>
<text class="l" transform="translate(1176.7,299.6) scale(0.96,1)">−0.04</text>
<text class="l" transform="translate(1176.7,351.4) scale(0.96,1)">−0.15</text>
<rect x="500" y="442.60" width="20.3" height="52.25" fill="#0d4a6f"/>
<rect x="500" y="494.65" width="20.3" height="52.25" fill="#107d9f"/>
<rect x="500" y="546.70" width="20.3" height="52.25" fill="#29b6ea"/>
<rect x="500" y="598.75" width="20.3" height="52.25" fill="#e0dc25"/>
<rect x="500" y="650.80" width="20.3" height="52.25" fill="#e09314"/>
<rect x="500" y="702.85" width="20.3" height="52.25" fill="#a01f27"/>
<line x1="500" y1="494.65" x2="520.3" y2="494.65" stroke="#7f7f7f" stroke-width="1"/>
<line x1="500" y1="546.70" x2="520.3" y2="546.70" stroke="#7f7f7f" stroke-width="1"/>
<line x1="500" y1="598.75" x2="520.3" y2="598.75" stroke="#7f7f7f" stroke-width="1"/>
<line x1="500" y1="650.80" x2="520.3" y2="650.80" stroke="#7f7f7f" stroke-width="1"/>
<line x1="500" y1="702.85" x2="520.3" y2="702.85" stroke="#7f7f7f" stroke-width="1"/>
<rect x="500" y="442.6" width="20.3" height="312.30" fill="none" stroke="#7f7f7f" stroke-width="1"/>
<text class="l" transform="translate(527.7,451.1) scale(0.96,1)">26.18</text>
<text class="l" transform="translate(527.7,503.1) scale(0.96,1)">16.35</text>
<text class="l" transform="translate(527.7,555.1) scale(0.96,1)">10.76</text>
<text class="l" transform="translate(527.7,607.1) scale(0.96,1)">5.62</text>
<text class="l" transform="translate(527.7,659.1) scale(0.96,1)">0.02</text>
<text class="l" transform="translate(527.7,711.1) scale(0.96,1)">−5.42</text>
<text class="l" transform="translate(527.7,763.1) scale(0.96,1)">−12.38</text>
<rect x="1148.4" y="442.60" width="20.3" height="52.25" fill="#0d4a6f"/>
<rect x="1148.4" y="494.65" width="20.3" height="52.25" fill="#107d9f"/>
<rect x="1148.4" y="546.70" width="20.3" height="52.25" fill="#29b6ea"/>
<rect x="1148.4" y="598.75" width="20.3" height="52.25" fill="#e0dc25"/>
<rect x="1148.4" y="650.80" width="20.3" height="52.25" fill="#e09314"/>
<rect x="1148.4" y="702.85" width="20.3" height="52.25" fill="#a01f27"/>
<line x1="1148.4" y1="494.65" x2="1168.7" y2="494.65" stroke="#7f7f7f" stroke-width="1"/>
<line x1="1148.4" y1="546.70" x2="1168.7" y2="546.70" stroke="#7f7f7f" stroke-width="1"/>
<line x1="1148.4" y1="598.75" x2="1168.7" y2="598.75" stroke="#7f7f7f" stroke-width="1"/>
<line x1="1148.4" y1="650.80" x2="1168.7" y2="650.80" stroke="#7f7f7f" stroke-width="1"/>
<line x1="1148.4" y1="702.85" x2="1168.7" y2="702.85" stroke="#7f7f7f" stroke-width="1"/>
<rect x="1148.4" y="442.6" width="20.3" height="312.30" fill="none" stroke="#7f7f7f" stroke-width="1"/>
<text class="l" transform="translate(1176.7,451.1) scale(0.96,1)">0.08</text>
<text class="l" transform="translate(1176.7,503.1) scale(0.96,1)">0.05</text>
<text class="l" transform="translate(1176.7,555.1) scale(0.96,1)">0.03</text>
<text class="l" transform="translate(1176.7,607.1) scale(0.96,1)">0.01</text>
<text class="l" transform="translate(1176.7,659.1) scale(0.96,1)">−0.01</text>
<text class="l" transform="translate(1176.7,711.1) scale(0.96,1)">−0.03</text>
<text class="l" transform="translate(1176.7,763.1) scale(0.96,1)">−0.09</text>
<text class="t" x="21.2" y="37.8">(a) 土壤水分</text>
<text class="t" x="670.5" y="37.8">(b) LAI</text>
<text class="t" x="21.2" y="450.5">(c) 降水</text>
<text class="t" x="670.5" y="450.3">(d) 温度</text>
<text class="ax" text-anchor="middle" transform="translate(612,188.5) rotate(-90)">土壤水分变化速率<tspan letter-spacing="0.7">/(%·a</tspan><tspan font-size="14.5" dy="-8">−1</tspan><tspan dy="8">)</tspan></text>
<text class="ax" text-anchor="middle" transform="translate(1262,193) rotate(-90)"><tspan letter-spacing="-0.3">LAI</tspan><tspan dx="3.5">变</tspan>化速率<tspan letter-spacing="2.2">/a</tspan><tspan font-size="14.5" dy="-8">−1</tspan></text>
<text class="ax" text-anchor="middle" transform="translate(612,598.6) rotate(-90)">降水变化速率<tspan letter-spacing="0.5">/(mm·a</tspan><tspan font-size="14.5" dy="-8">−1</tspan><tspan dy="8">)</tspan></text>
<text class="ax" text-anchor="middle" transform="translate(1260.5,603) rotate(-90)">气温变化速率<tspan letter-spacing="2.1">/(°C·a</tspan><tspan font-size="14.5" dy="-8">−1</tspan><tspan dy="8">)</tspan></text>
</svg></body></html>
